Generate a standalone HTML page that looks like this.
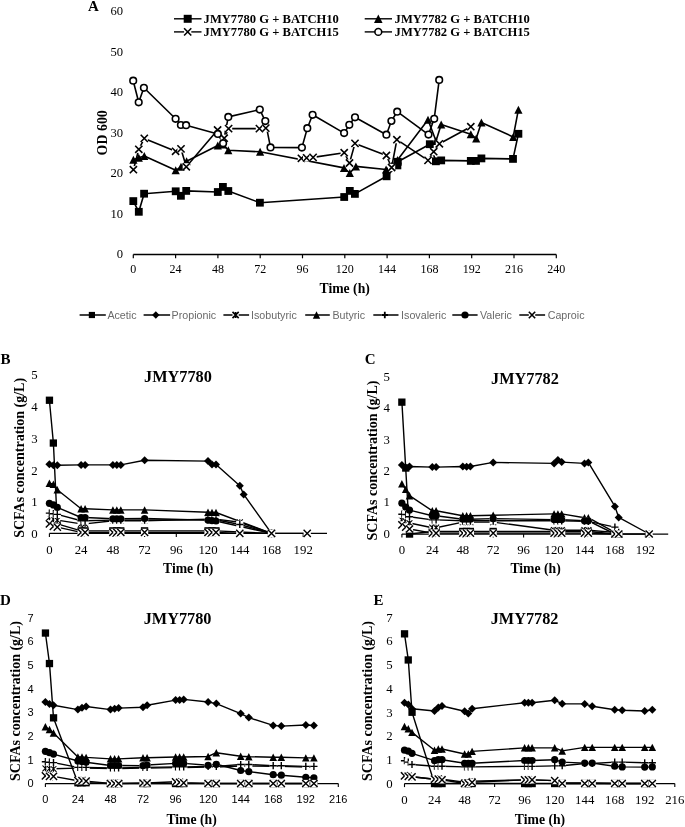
<!DOCTYPE html>
<html><head><meta charset="utf-8"><title>Figure</title>
<style>
html,body{margin:0;padding:0;background:#fff;width:685px;height:827px;overflow:hidden;}
svg{display:block;will-change:transform;}
text{font-kerning:normal;}
</style></head><body>
<svg width="685" height="827" viewBox="0 0 685 827">
<rect width="685" height="827" fill="#fff"/>
<path d="M133.3 254.5H556.3" stroke="#000" stroke-width="1.3" fill="none"/>
<path d="M133.3 254.5V258.3" stroke="#000" stroke-width="1.2"/>
<text x="133.3" y="273" font-family='"Liberation Serif", serif' font-size="12" font-weight="normal" text-anchor="middle" fill="#000">0</text>
<path d="M175.6 254.5V258.3" stroke="#000" stroke-width="1.2"/>
<text x="175.6" y="273" font-family='"Liberation Serif", serif' font-size="12" font-weight="normal" text-anchor="middle" fill="#000">24</text>
<path d="M217.9 254.5V258.3" stroke="#000" stroke-width="1.2"/>
<text x="217.9" y="273" font-family='"Liberation Serif", serif' font-size="12" font-weight="normal" text-anchor="middle" fill="#000">48</text>
<path d="M260.2 254.5V258.3" stroke="#000" stroke-width="1.2"/>
<text x="260.2" y="273" font-family='"Liberation Serif", serif' font-size="12" font-weight="normal" text-anchor="middle" fill="#000">72</text>
<path d="M302.5 254.5V258.3" stroke="#000" stroke-width="1.2"/>
<text x="302.5" y="273" font-family='"Liberation Serif", serif' font-size="12" font-weight="normal" text-anchor="middle" fill="#000">96</text>
<path d="M344.8 254.5V258.3" stroke="#000" stroke-width="1.2"/>
<text x="344.8" y="273" font-family='"Liberation Serif", serif' font-size="12" font-weight="normal" text-anchor="middle" fill="#000">120</text>
<path d="M387.1 254.5V258.3" stroke="#000" stroke-width="1.2"/>
<text x="387.1" y="273" font-family='"Liberation Serif", serif' font-size="12" font-weight="normal" text-anchor="middle" fill="#000">144</text>
<path d="M429.4 254.5V258.3" stroke="#000" stroke-width="1.2"/>
<text x="429.4" y="273" font-family='"Liberation Serif", serif' font-size="12" font-weight="normal" text-anchor="middle" fill="#000">168</text>
<path d="M471.7 254.5V258.3" stroke="#000" stroke-width="1.2"/>
<text x="471.7" y="273" font-family='"Liberation Serif", serif' font-size="12" font-weight="normal" text-anchor="middle" fill="#000">192</text>
<path d="M514 254.5V258.3" stroke="#000" stroke-width="1.2"/>
<text x="514" y="273" font-family='"Liberation Serif", serif' font-size="12" font-weight="normal" text-anchor="middle" fill="#000">216</text>
<path d="M556.3 254.5V258.3" stroke="#000" stroke-width="1.2"/>
<text x="556.3" y="273" font-family='"Liberation Serif", serif' font-size="12" font-weight="normal" text-anchor="middle" fill="#000">240</text>
<text x="123" y="258.3" font-family='"Liberation Serif", serif' font-size="12.6" font-weight="normal" text-anchor="end" fill="#000">0</text>
<text x="123" y="217.8" font-family='"Liberation Serif", serif' font-size="12.6" font-weight="normal" text-anchor="end" fill="#000">10</text>
<text x="123" y="177.2" font-family='"Liberation Serif", serif' font-size="12.6" font-weight="normal" text-anchor="end" fill="#000">20</text>
<text x="123" y="136.7" font-family='"Liberation Serif", serif' font-size="12.6" font-weight="normal" text-anchor="end" fill="#000">30</text>
<text x="123" y="96.1" font-family='"Liberation Serif", serif' font-size="12.6" font-weight="normal" text-anchor="end" fill="#000">40</text>
<text x="123" y="55.5" font-family='"Liberation Serif", serif' font-size="12.6" font-weight="normal" text-anchor="end" fill="#000">50</text>
<text x="123" y="15" font-family='"Liberation Serif", serif' font-size="12.6" font-weight="normal" text-anchor="end" fill="#000">60</text>
<text x="88" y="11.2" font-family='"Liberation Serif", serif' font-size="15" font-weight="bold" text-anchor="start" fill="#000">A</text>
<text x="344.7" y="293.2" font-family='"Liberation Serif", serif' font-size="13.7" font-weight="bold" text-anchor="middle" fill="#000">Time (h)</text>
<text x="0" y="0" font-family='"Liberation Serif", serif' font-size="13.9" font-weight="bold" text-anchor="middle" fill="#000" transform="translate(107.0 132.8) rotate(-90)">OD 600</text>
<path d="M133.3 201.1L138.8 211.8L144.1 193.7L175.7 191.3L180.9 195.8L186.2 190.9L217.8 192L222.9 186.9L228.3 191L259.9 202.7L344.2 197L349.8 190.9L354.9 193.9L386.6 176.3L397.4 165.4L397.8 161.8L429.8 144.2L435.9 161.3L441.2 160.4L470.8 160.9L476 160.9L481.4 158.4L513 158.9L518.4 133.8" stroke="#000" stroke-width="1.6" fill="none" stroke-linejoin="round"/>
<path d="M133.4 169.7L138.8 149.3L144.3 138.4L175.6 151.3L181 148.9L186.3 166.8L217.6 130L224.2 138.2L228.6 128.6L259.4 128.6L265.8 128.1" stroke="#000" stroke-width="1.6" fill="none" stroke-linejoin="round"/>
<path d="M301.4 158.3L306.6 157.9L313.1 157.4L344.2 152.7L349.5 163L355 143.4L386.4 155.5L391.6 167.5L396.9 139.7L428 160.4L433.7 151.7L439.4 143.8L470.8 126.7" stroke="#000" stroke-width="1.6" fill="none" stroke-linejoin="round"/>
<path d="M133.4 159.8L138.8 157.8L144.3 155.9L175.7 170.3L181 166.8L186.6 161.2L217.8 145.5L223.1 144.5L228.3 150.2L260.1 151.8L344 167.9L349.8 173L355.9 166.4L386.1 169.5L391.6 166L397.5 160L428 119.7L436 141L441.2 124.5L470.8 134.3L476.2 138.4L481.4 122.6L513.2 136.9L518.4 109.7" stroke="#000" stroke-width="1.6" fill="none" stroke-linejoin="round"/>
<path d="M133.2 80.7L138.7 102.3L143.9 87.8L175.6 118.8L180.9 125L186.1 125.2L217.8 133.9L223.1 143.3L228.3 116.9L259.8 109.6L265.3 121.1L270.5 147.4L301.9 147.6L307.3 128.2L312.6 114.8L344.1 133.1L349.3 124.8L355 117.3L386.4 134.7L391.4 121L397.2 111.7L428.5 134.6L434.2 118.8L439.2 79.9" stroke="#000" stroke-width="1.6" fill="none" stroke-linejoin="round"/>
<rect x="129.4" y="197.2" width="7.8" height="7.8" fill="#000"/>
<rect x="134.9" y="207.9" width="7.8" height="7.8" fill="#000"/>
<rect x="140.2" y="189.8" width="7.8" height="7.8" fill="#000"/>
<rect x="171.8" y="187.4" width="7.8" height="7.8" fill="#000"/>
<rect x="177" y="191.9" width="7.8" height="7.8" fill="#000"/>
<rect x="182.3" y="187" width="7.8" height="7.8" fill="#000"/>
<rect x="213.9" y="188.1" width="7.8" height="7.8" fill="#000"/>
<rect x="219" y="183" width="7.8" height="7.8" fill="#000"/>
<rect x="224.4" y="187.1" width="7.8" height="7.8" fill="#000"/>
<rect x="256" y="198.8" width="7.8" height="7.8" fill="#000"/>
<rect x="340.3" y="193.1" width="7.8" height="7.8" fill="#000"/>
<rect x="345.9" y="187" width="7.8" height="7.8" fill="#000"/>
<rect x="351" y="190" width="7.8" height="7.8" fill="#000"/>
<rect x="382.7" y="172.4" width="7.8" height="7.8" fill="#000"/>
<rect x="393.5" y="161.5" width="7.8" height="7.8" fill="#000"/>
<rect x="393.9" y="157.9" width="7.8" height="7.8" fill="#000"/>
<rect x="425.9" y="140.3" width="7.8" height="7.8" fill="#000"/>
<rect x="432" y="157.4" width="7.8" height="7.8" fill="#000"/>
<rect x="437.3" y="156.5" width="7.8" height="7.8" fill="#000"/>
<rect x="466.9" y="157" width="7.8" height="7.8" fill="#000"/>
<rect x="472.1" y="157" width="7.8" height="7.8" fill="#000"/>
<rect x="477.5" y="154.5" width="7.8" height="7.8" fill="#000"/>
<rect x="509.1" y="155" width="7.8" height="7.8" fill="#000"/>
<rect x="514.5" y="129.9" width="7.8" height="7.8" fill="#000"/>
<path d="M133.4 155.8L137.5 163.8L129.3 163.8Z" fill="#000"/>
<path d="M138.8 153.8L142.9 161.8L134.7 161.8Z" fill="#000"/>
<path d="M144.3 151.9L148.4 159.9L140.2 159.9Z" fill="#000"/>
<path d="M175.7 166.3L179.8 174.3L171.6 174.3Z" fill="#000"/>
<path d="M181 162.8L185.1 170.8L176.9 170.8Z" fill="#000"/>
<path d="M186.6 157.2L190.7 165.2L182.5 165.2Z" fill="#000"/>
<path d="M217.8 141.5L221.9 149.5L213.7 149.5Z" fill="#000"/>
<path d="M223.1 140.5L227.2 148.5L219 148.5Z" fill="#000"/>
<path d="M228.3 146.2L232.4 154.2L224.2 154.2Z" fill="#000"/>
<path d="M260.1 147.8L264.2 155.8L256 155.8Z" fill="#000"/>
<path d="M344 163.9L348.1 171.9L339.9 171.9Z" fill="#000"/>
<path d="M349.8 169L353.9 177L345.7 177Z" fill="#000"/>
<path d="M355.9 162.4L360 170.4L351.8 170.4Z" fill="#000"/>
<path d="M386.1 165.5L390.2 173.5L382 173.5Z" fill="#000"/>
<path d="M391.6 162L395.7 170L387.5 170Z" fill="#000"/>
<path d="M397.5 156L401.6 164L393.4 164Z" fill="#000"/>
<path d="M428 115.7L432.1 123.7L423.9 123.7Z" fill="#000"/>
<path d="M436 137L440.1 145L431.9 145Z" fill="#000"/>
<path d="M441.2 120.5L445.3 128.5L437.1 128.5Z" fill="#000"/>
<path d="M470.8 130.3L474.9 138.3L466.7 138.3Z" fill="#000"/>
<path d="M476.2 134.4L480.3 142.4L472.1 142.4Z" fill="#000"/>
<path d="M481.4 118.6L485.5 126.6L477.3 126.6Z" fill="#000"/>
<path d="M513.2 132.9L517.3 140.9L509.1 140.9Z" fill="#000"/>
<path d="M518.4 105.7L522.5 113.7L514.3 113.7Z" fill="#000"/>
<rect x="129.8" y="166.1" width="7.2" height="7.2" fill="#fff"/><path d="M129.8 166.1L137 173.3M137 166.1L129.8 173.3" stroke="#000" stroke-width="1.6" fill="none"/>
<rect x="135.2" y="145.7" width="7.2" height="7.2" fill="#fff"/><path d="M135.2 145.7L142.4 152.9M142.4 145.7L135.2 152.9" stroke="#000" stroke-width="1.6" fill="none"/>
<rect x="140.7" y="134.8" width="7.2" height="7.2" fill="#fff"/><path d="M140.7 134.8L147.9 142M147.9 134.8L140.7 142" stroke="#000" stroke-width="1.6" fill="none"/>
<rect x="172" y="147.7" width="7.2" height="7.2" fill="#fff"/><path d="M172 147.7L179.2 154.9M179.2 147.7L172 154.9" stroke="#000" stroke-width="1.6" fill="none"/>
<rect x="177.4" y="145.3" width="7.2" height="7.2" fill="#fff"/><path d="M177.4 145.3L184.6 152.5M184.6 145.3L177.4 152.5" stroke="#000" stroke-width="1.6" fill="none"/>
<rect x="182.7" y="163.2" width="7.2" height="7.2" fill="#fff"/><path d="M182.7 163.2L189.9 170.4M189.9 163.2L182.7 170.4" stroke="#000" stroke-width="1.6" fill="none"/>
<rect x="214" y="126.4" width="7.2" height="7.2" fill="#fff"/><path d="M214 126.4L221.2 133.6M221.2 126.4L214 133.6" stroke="#000" stroke-width="1.6" fill="none"/>
<rect x="220.6" y="134.6" width="7.2" height="7.2" fill="#fff"/><path d="M220.6 134.6L227.8 141.8M227.8 134.6L220.6 141.8" stroke="#000" stroke-width="1.6" fill="none"/>
<rect x="225" y="125" width="7.2" height="7.2" fill="#fff"/><path d="M225 125L232.2 132.2M232.2 125L225 132.2" stroke="#000" stroke-width="1.6" fill="none"/>
<rect x="255.8" y="125" width="7.2" height="7.2" fill="#fff"/><path d="M255.8 125L263 132.2M263 125L255.8 132.2" stroke="#000" stroke-width="1.6" fill="none"/>
<rect x="262.2" y="124.5" width="7.2" height="7.2" fill="#fff"/><path d="M262.2 124.5L269.4 131.7M269.4 124.5L262.2 131.7" stroke="#000" stroke-width="1.6" fill="none"/>
<rect x="297.8" y="154.7" width="7.2" height="7.2" fill="#fff"/><path d="M297.8 154.7L305 161.9M305 154.7L297.8 161.9" stroke="#000" stroke-width="1.6" fill="none"/>
<rect x="303" y="154.3" width="7.2" height="7.2" fill="#fff"/><path d="M303 154.3L310.2 161.5M310.2 154.3L303 161.5" stroke="#000" stroke-width="1.6" fill="none"/>
<rect x="309.5" y="153.8" width="7.2" height="7.2" fill="#fff"/><path d="M309.5 153.8L316.7 161M316.7 153.8L309.5 161" stroke="#000" stroke-width="1.6" fill="none"/>
<rect x="340.6" y="149.1" width="7.2" height="7.2" fill="#fff"/><path d="M340.6 149.1L347.8 156.3M347.8 149.1L340.6 156.3" stroke="#000" stroke-width="1.6" fill="none"/>
<rect x="345.9" y="159.4" width="7.2" height="7.2" fill="#fff"/><path d="M345.9 159.4L353.1 166.6M353.1 159.4L345.9 166.6" stroke="#000" stroke-width="1.6" fill="none"/>
<rect x="351.4" y="139.8" width="7.2" height="7.2" fill="#fff"/><path d="M351.4 139.8L358.6 147M358.6 139.8L351.4 147" stroke="#000" stroke-width="1.6" fill="none"/>
<rect x="382.8" y="151.9" width="7.2" height="7.2" fill="#fff"/><path d="M382.8 151.9L390 159.1M390 151.9L382.8 159.1" stroke="#000" stroke-width="1.6" fill="none"/>
<rect x="388" y="163.9" width="7.2" height="7.2" fill="#fff"/><path d="M388 163.9L395.2 171.1M395.2 163.9L388 171.1" stroke="#000" stroke-width="1.6" fill="none"/>
<rect x="393.3" y="136.1" width="7.2" height="7.2" fill="#fff"/><path d="M393.3 136.1L400.5 143.3M400.5 136.1L393.3 143.3" stroke="#000" stroke-width="1.6" fill="none"/>
<rect x="424.4" y="156.8" width="7.2" height="7.2" fill="#fff"/><path d="M424.4 156.8L431.6 164M431.6 156.8L424.4 164" stroke="#000" stroke-width="1.6" fill="none"/>
<rect x="430.1" y="148.1" width="7.2" height="7.2" fill="#fff"/><path d="M430.1 148.1L437.3 155.3M437.3 148.1L430.1 155.3" stroke="#000" stroke-width="1.6" fill="none"/>
<rect x="435.8" y="140.2" width="7.2" height="7.2" fill="#fff"/><path d="M435.8 140.2L443 147.4M443 140.2L435.8 147.4" stroke="#000" stroke-width="1.6" fill="none"/>
<rect x="467.2" y="123.1" width="7.2" height="7.2" fill="#fff"/><path d="M467.2 123.1L474.4 130.3M474.4 123.1L467.2 130.3" stroke="#000" stroke-width="1.6" fill="none"/>
<circle cx="133.2" cy="80.7" r="3.3" fill="#fff" stroke="#000" stroke-width="1.6"/>
<circle cx="138.7" cy="102.3" r="3.3" fill="#fff" stroke="#000" stroke-width="1.6"/>
<circle cx="143.9" cy="87.8" r="3.3" fill="#fff" stroke="#000" stroke-width="1.6"/>
<circle cx="175.6" cy="118.8" r="3.3" fill="#fff" stroke="#000" stroke-width="1.6"/>
<circle cx="180.9" cy="125" r="3.3" fill="#fff" stroke="#000" stroke-width="1.6"/>
<circle cx="186.1" cy="125.2" r="3.3" fill="#fff" stroke="#000" stroke-width="1.6"/>
<circle cx="217.8" cy="133.9" r="3.3" fill="#fff" stroke="#000" stroke-width="1.6"/>
<circle cx="223.1" cy="143.3" r="3.3" fill="#fff" stroke="#000" stroke-width="1.6"/>
<circle cx="228.3" cy="116.9" r="3.3" fill="#fff" stroke="#000" stroke-width="1.6"/>
<circle cx="259.8" cy="109.6" r="3.3" fill="#fff" stroke="#000" stroke-width="1.6"/>
<circle cx="265.3" cy="121.1" r="3.3" fill="#fff" stroke="#000" stroke-width="1.6"/>
<circle cx="270.5" cy="147.4" r="3.3" fill="#fff" stroke="#000" stroke-width="1.6"/>
<circle cx="301.9" cy="147.6" r="3.3" fill="#fff" stroke="#000" stroke-width="1.6"/>
<circle cx="307.3" cy="128.2" r="3.3" fill="#fff" stroke="#000" stroke-width="1.6"/>
<circle cx="312.6" cy="114.8" r="3.3" fill="#fff" stroke="#000" stroke-width="1.6"/>
<circle cx="344.1" cy="133.1" r="3.3" fill="#fff" stroke="#000" stroke-width="1.6"/>
<circle cx="349.3" cy="124.8" r="3.3" fill="#fff" stroke="#000" stroke-width="1.6"/>
<circle cx="355" cy="117.3" r="3.3" fill="#fff" stroke="#000" stroke-width="1.6"/>
<circle cx="386.4" cy="134.7" r="3.3" fill="#fff" stroke="#000" stroke-width="1.6"/>
<circle cx="391.4" cy="121" r="3.3" fill="#fff" stroke="#000" stroke-width="1.6"/>
<circle cx="397.2" cy="111.7" r="3.3" fill="#fff" stroke="#000" stroke-width="1.6"/>
<circle cx="428.5" cy="134.6" r="3.3" fill="#fff" stroke="#000" stroke-width="1.6"/>
<circle cx="434.2" cy="118.8" r="3.3" fill="#fff" stroke="#000" stroke-width="1.6"/>
<circle cx="439.2" cy="79.9" r="3.3" fill="#fff" stroke="#000" stroke-width="1.6"/>
<path d="M174 18.8H201.5" stroke="#000" stroke-width="1.4"/>
<rect x="183.7" y="14.8" width="8" height="8" fill="#000"/>
<text x="203.6" y="22.6" font-family='"Liberation Serif", serif' font-size="12.6" font-weight="bold" text-anchor="start" fill="#000">JMY7780 G + BATCH10</text>
<path d="M174 31.9H201.5" stroke="#000" stroke-width="1.4"/>
<rect x="184.1" y="28.3" width="7.2" height="7.2" fill="#fff"/><path d="M184.1 28.3L191.3 35.5M191.3 28.3L184.1 35.5" stroke="#000" stroke-width="1.6" fill="none"/>
<text x="203.6" y="36" font-family='"Liberation Serif", serif' font-size="12.6" font-weight="bold" text-anchor="start" fill="#000">JMY7780 G + BATCH15</text>
<path d="M364.7 18.8H392" stroke="#000" stroke-width="1.4"/>
<path d="M378.3 14.5L382.6 23.1L374 23.1Z" fill="#000"/>
<text x="394.6" y="22.6" font-family='"Liberation Serif", serif' font-size="12.6" font-weight="bold" text-anchor="start" fill="#000">JMY7782 G + BATCH10</text>
<path d="M364.7 31.9H392" stroke="#000" stroke-width="1.4"/>
<circle cx="378.3" cy="31.9" r="3.4" fill="#fff" stroke="#000" stroke-width="1.6"/>
<text x="394.6" y="36" font-family='"Liberation Serif", serif' font-size="12.6" font-weight="bold" text-anchor="start" fill="#000">JMY7782 G + BATCH15</text>
<path d="M79.6 315H105.8" stroke="#000" stroke-width="1.5"/>
<rect x="88.8" y="311.9" width="6.2" height="6.2" fill="#000"/>
<text x="107.4" y="318.9" font-family='"Liberation Sans", sans-serif' font-size="10.7" font-weight="normal" text-anchor="start" fill="#6a6a6a">Acetic</text>
<path d="M143.6 315H170.1" stroke="#000" stroke-width="1.5"/>
<path d="M155.8 311.3L159.5 315L155.8 318.7L152.1 315Z" fill="#000"/>
<text x="171.6" y="318.9" font-family='"Liberation Sans", sans-serif' font-size="10.7" font-weight="normal" text-anchor="start" fill="#6a6a6a">Propionic</text>
<path d="M223.4 315H249.1" stroke="#000" stroke-width="1.5"/>
<rect x="232.5" y="311.9" width="6.2" height="6.2" fill="#fff"/><path d="M232.5 311.9L238.7 318.1M238.7 311.9L232.5 318.1M235.6 311.9L235.6 318.1" stroke="#000" stroke-width="1.6" fill="none"/>
<text x="251" y="318.9" font-family='"Liberation Sans", sans-serif' font-size="10.7" font-weight="normal" text-anchor="start" fill="#6a6a6a">Isobutyric</text>
<path d="M305.2 315H329.8" stroke="#000" stroke-width="1.5"/>
<path d="M316.5 311.3L320.2 318.7L312.8 318.7Z" fill="#000"/>
<text x="332.4" y="318.9" font-family='"Liberation Sans", sans-serif' font-size="10.7" font-weight="normal" text-anchor="start" fill="#6a6a6a">Butyric</text>
<path d="M373.3 315H398.5" stroke="#000" stroke-width="1.5"/>
<rect x="381.6" y="311.8" width="6.4" height="6.4" fill="#fff"/><path d="M381.6 315L388 315M384.8 311.8L384.8 318.2" stroke="#000" stroke-width="1.8" fill="none"/>
<text x="401.1" y="318.9" font-family='"Liberation Sans", sans-serif' font-size="10.7" font-weight="normal" text-anchor="start" fill="#6a6a6a">Isovaleric</text>
<path d="M452.3 315H477.6" stroke="#000" stroke-width="1.5"/>
<circle cx="465" cy="315" r="3.6" fill="#000"/>
<text x="480" y="318.9" font-family='"Liberation Sans", sans-serif' font-size="10.7" font-weight="normal" text-anchor="start" fill="#6a6a6a">Valeric</text>
<path d="M519.3 315H545.1" stroke="#000" stroke-width="1.5"/>
<rect x="528.8" y="311.8" width="6.4" height="6.4" fill="#fff"/><path d="M528.8 311.8L535.2 318.2M535.2 311.8L528.8 318.2" stroke="#000" stroke-width="1.6" fill="none"/>
<text x="547.7" y="318.9" font-family='"Liberation Sans", sans-serif' font-size="10.7" font-weight="normal" text-anchor="start" fill="#6a6a6a">Caproic</text>
<path d="M49.4 533.4H327" stroke="#000" stroke-width="1.25" fill="none"/>
<path d="M49.4 533.4V537" stroke="#000" stroke-width="1.1"/>
<text x="49.4" y="553.8" font-family='"Liberation Serif", serif' font-size="12.8" font-weight="normal" text-anchor="middle" fill="#000">0</text>
<path d="M81.1 533.4V537" stroke="#000" stroke-width="1.1"/>
<text x="81.1" y="553.8" font-family='"Liberation Serif", serif' font-size="12.8" font-weight="normal" text-anchor="middle" fill="#000">24</text>
<path d="M112.9 533.4V537" stroke="#000" stroke-width="1.1"/>
<text x="112.9" y="553.8" font-family='"Liberation Serif", serif' font-size="12.8" font-weight="normal" text-anchor="middle" fill="#000">48</text>
<path d="M144.6 533.4V537" stroke="#000" stroke-width="1.1"/>
<text x="144.6" y="553.8" font-family='"Liberation Serif", serif' font-size="12.8" font-weight="normal" text-anchor="middle" fill="#000">72</text>
<path d="M176.3 533.4V537" stroke="#000" stroke-width="1.1"/>
<text x="176.3" y="553.8" font-family='"Liberation Serif", serif' font-size="12.8" font-weight="normal" text-anchor="middle" fill="#000">96</text>
<path d="M208 533.4V537" stroke="#000" stroke-width="1.1"/>
<text x="208" y="553.8" font-family='"Liberation Serif", serif' font-size="12.8" font-weight="normal" text-anchor="middle" fill="#000">120</text>
<path d="M239.8 533.4V537" stroke="#000" stroke-width="1.1"/>
<text x="239.8" y="553.8" font-family='"Liberation Serif", serif' font-size="12.8" font-weight="normal" text-anchor="middle" fill="#000">144</text>
<path d="M271.5 533.4V537" stroke="#000" stroke-width="1.1"/>
<text x="271.5" y="553.8" font-family='"Liberation Serif", serif' font-size="12.8" font-weight="normal" text-anchor="middle" fill="#000">168</text>
<path d="M303.2 533.4V537" stroke="#000" stroke-width="1.1"/>
<text x="303.2" y="553.8" font-family='"Liberation Serif", serif' font-size="12.8" font-weight="normal" text-anchor="middle" fill="#000">192</text>
<text x="37.6" y="537.9" font-family='"Liberation Serif", serif' font-size="12.8" font-weight="normal" text-anchor="end" fill="#000">0</text>
<text x="37.6" y="506.2" font-family='"Liberation Serif", serif' font-size="12.8" font-weight="normal" text-anchor="end" fill="#000">1</text>
<text x="37.6" y="474.5" font-family='"Liberation Serif", serif' font-size="12.8" font-weight="normal" text-anchor="end" fill="#000">2</text>
<text x="37.6" y="442.8" font-family='"Liberation Serif", serif' font-size="12.8" font-weight="normal" text-anchor="end" fill="#000">3</text>
<text x="37.6" y="411.1" font-family='"Liberation Serif", serif' font-size="12.8" font-weight="normal" text-anchor="end" fill="#000">4</text>
<text x="37.6" y="379.4" font-family='"Liberation Serif", serif' font-size="12.8" font-weight="normal" text-anchor="end" fill="#000">5</text>
<text x="0.5" y="364" font-family='"Liberation Serif", serif' font-size="15" font-weight="bold" text-anchor="start" fill="#000">B</text>
<text x="177.9" y="382.2" font-family='"Liberation Serif", serif' font-size="16.3" font-weight="bold" text-anchor="middle" fill="#000">JMY7780</text>
<text x="188.2" y="573.1" font-family='"Liberation Serif", serif' font-size="13.7" font-weight="bold" text-anchor="middle" fill="#000">Time (h)</text>
<text x="0" y="0" font-family='"Liberation Serif", serif' font-size="14" font-weight="bold" text-anchor="middle" fill="#000" transform="translate(24 457.9) rotate(-90)">SCFAs concentration (g/L)</text>
<path d="M49.4 400.3L53.4 443.1L57.3 523.9L81.1 530.9L85.1 530.9L112.9 530.9L116.8 530.9L120.8 530.9L144.6 530.9L208 530.9L212 530.9L216 530.9L271.5 533.4" stroke="#000" stroke-width="1.4" fill="none" stroke-linejoin="round"/>
<path d="M49.4 464.3L53.4 465.2L57.3 465.2L81.1 464.9L85.1 464.9L112.9 464.9L116.8 464.9L120.8 464.9L144.6 460.2L208 461.1L212 464.6L216 464.6L239.8 485.8L243.7 494.4L271.5 533.4" stroke="#000" stroke-width="1.4" fill="none" stroke-linejoin="round"/>
<path d="M49.4 517.5L53.4 519.1L57.3 520.1L81.1 523.9L85.1 523.9L112.9 520.7L116.8 520.7L120.8 520.7L144.6 520.7L208 519.1L212 519.1L216 519.1L239.8 522.3L271.5 533.4" stroke="#000" stroke-width="1.4" fill="none" stroke-linejoin="round"/>
<path d="M49.4 483.3L53.4 484.3L57.3 489.7L81.1 508.7L85.1 508.7L112.9 509.9L116.8 509.9L120.8 509.9L144.6 509.9L208 512.2L212 512.5L216 512.5L271.5 533.4" stroke="#000" stroke-width="1.4" fill="none" stroke-linejoin="round"/>
<path d="M49.4 513.1L53.4 513.7L57.3 514.4L81.1 520.7L85.1 520.7L112.9 520.1L116.8 520.1L120.8 520.1L144.6 520.1L208 519.8L212 519.8L216 519.8L239.8 524.5L271.5 533.4" stroke="#000" stroke-width="1.4" fill="none" stroke-linejoin="round"/>
<path d="M49.4 503.3L53.4 504.9L57.3 507.4L81.1 517.5L85.1 517.5L112.9 518.8L116.8 518.8L120.8 518.8L144.6 518.5L208 520.1L212 520.7L216 521L271.5 533.4" stroke="#000" stroke-width="1.4" fill="none" stroke-linejoin="round"/>
<path d="M49.4 523.9L53.4 526.4L57.3 527.1L81.1 532.4L85.1 532.4L112.9 532.4L116.8 532.4L120.8 532.4L144.6 532.4L208 532.4L212 532.4L216 532.4L239.8 533.4L271.5 533.4L307.2 533.4" stroke="#000" stroke-width="1.4" fill="none" stroke-linejoin="round"/>
<rect x="45.8" y="396.6" width="7.3" height="7.3" fill="#000"/>
<rect x="49.7" y="439.4" width="7.3" height="7.3" fill="#000"/>
<rect x="53.7" y="520.2" width="7.3" height="7.3" fill="#000"/>
<rect x="77.5" y="527.2" width="7.3" height="7.3" fill="#000"/>
<rect x="81.4" y="527.2" width="7.3" height="7.3" fill="#000"/>
<rect x="109.2" y="527.2" width="7.3" height="7.3" fill="#000"/>
<rect x="113.2" y="527.2" width="7.3" height="7.3" fill="#000"/>
<rect x="117.1" y="527.2" width="7.3" height="7.3" fill="#000"/>
<rect x="140.9" y="527.2" width="7.3" height="7.3" fill="#000"/>
<rect x="204.4" y="527.2" width="7.3" height="7.3" fill="#000"/>
<rect x="208.4" y="527.2" width="7.3" height="7.3" fill="#000"/>
<rect x="212.3" y="527.2" width="7.3" height="7.3" fill="#000"/>
<rect x="267.8" y="529.8" width="7.3" height="7.3" fill="#000"/>
<path d="M49.4 460.3L53.4 464.3L49.4 468.3L45.4 464.3Z" fill="#000"/>
<path d="M53.4 461.2L57.4 465.2L53.4 469.2L49.4 465.2Z" fill="#000"/>
<path d="M57.3 461.2L61.3 465.2L57.3 469.2L53.3 465.2Z" fill="#000"/>
<path d="M81.1 460.9L85.1 464.9L81.1 468.9L77.1 464.9Z" fill="#000"/>
<path d="M85.1 460.9L89.1 464.9L85.1 468.9L81.1 464.9Z" fill="#000"/>
<path d="M112.9 460.9L116.9 464.9L112.9 468.9L108.9 464.9Z" fill="#000"/>
<path d="M116.8 460.9L120.8 464.9L116.8 468.9L112.8 464.9Z" fill="#000"/>
<path d="M120.8 460.9L124.8 464.9L120.8 468.9L116.8 464.9Z" fill="#000"/>
<path d="M144.6 456.2L148.6 460.2L144.6 464.2L140.6 460.2Z" fill="#000"/>
<path d="M208 457.1L212 461.1L208 465.1L204 461.1Z" fill="#000"/>
<path d="M212 460.6L216 464.6L212 468.6L208 464.6Z" fill="#000"/>
<path d="M216 460.6L220 464.6L216 468.6L212 464.6Z" fill="#000"/>
<path d="M239.8 481.8L243.8 485.8L239.8 489.8L235.8 485.8Z" fill="#000"/>
<path d="M243.7 490.4L247.7 494.4L243.7 498.4L239.7 494.4Z" fill="#000"/>
<path d="M271.5 529.4L275.5 533.4L271.5 537.4L267.5 533.4Z" fill="#000"/>
<rect x="46.4" y="514.5" width="6" height="6" fill="#fff"/><path d="M46.4 514.5L52.4 520.5M52.4 514.5L46.4 520.5M49.4 514.5L49.4 520.5" stroke="#000" stroke-width="1.1" fill="none"/>
<rect x="50.4" y="516.1" width="6" height="6" fill="#fff"/><path d="M50.4 516.1L56.4 522.1M56.4 516.1L50.4 522.1M53.4 516.1L53.4 522.1" stroke="#000" stroke-width="1.1" fill="none"/>
<rect x="54.3" y="517.1" width="6" height="6" fill="#fff"/><path d="M54.3 517.1L60.3 523.1M60.3 517.1L54.3 523.1M57.3 517.1L57.3 523.1" stroke="#000" stroke-width="1.1" fill="none"/>
<rect x="78.1" y="520.9" width="6" height="6" fill="#fff"/><path d="M78.1 520.9L84.1 526.9M84.1 520.9L78.1 526.9M81.1 520.9L81.1 526.9" stroke="#000" stroke-width="1.1" fill="none"/>
<rect x="82.1" y="520.9" width="6" height="6" fill="#fff"/><path d="M82.1 520.9L88.1 526.9M88.1 520.9L82.1 526.9M85.1 520.9L85.1 526.9" stroke="#000" stroke-width="1.1" fill="none"/>
<rect x="109.9" y="517.7" width="6" height="6" fill="#fff"/><path d="M109.9 517.7L115.9 523.7M115.9 517.7L109.9 523.7M112.9 517.7L112.9 523.7" stroke="#000" stroke-width="1.1" fill="none"/>
<rect x="113.8" y="517.7" width="6" height="6" fill="#fff"/><path d="M113.8 517.7L119.8 523.7M119.8 517.7L113.8 523.7M116.8 517.7L116.8 523.7" stroke="#000" stroke-width="1.1" fill="none"/>
<rect x="117.8" y="517.7" width="6" height="6" fill="#fff"/><path d="M117.8 517.7L123.8 523.7M123.8 517.7L117.8 523.7M120.8 517.7L120.8 523.7" stroke="#000" stroke-width="1.1" fill="none"/>
<rect x="141.6" y="517.7" width="6" height="6" fill="#fff"/><path d="M141.6 517.7L147.6 523.7M147.6 517.7L141.6 523.7M144.6 517.7L144.6 523.7" stroke="#000" stroke-width="1.1" fill="none"/>
<rect x="205" y="516.1" width="6" height="6" fill="#fff"/><path d="M205 516.1L211 522.1M211 516.1L205 522.1M208 516.1L208 522.1" stroke="#000" stroke-width="1.1" fill="none"/>
<rect x="209" y="516.1" width="6" height="6" fill="#fff"/><path d="M209 516.1L215 522.1M215 516.1L209 522.1M212 516.1L212 522.1" stroke="#000" stroke-width="1.1" fill="none"/>
<rect x="213" y="516.1" width="6" height="6" fill="#fff"/><path d="M213 516.1L219 522.1M219 516.1L213 522.1M216 516.1L216 522.1" stroke="#000" stroke-width="1.1" fill="none"/>
<rect x="236.8" y="519.3" width="6" height="6" fill="#fff"/><path d="M236.8 519.3L242.8 525.3M242.8 519.3L236.8 525.3M239.8 519.3L239.8 525.3" stroke="#000" stroke-width="1.1" fill="none"/>
<rect x="268.5" y="530.4" width="6" height="6" fill="#fff"/><path d="M268.5 530.4L274.5 536.4M274.5 530.4L268.5 536.4M271.5 530.4L271.5 536.4" stroke="#000" stroke-width="1.1" fill="none"/>
<path d="M49.4 479.6L53.2 487L45.6 487Z" fill="#000"/>
<path d="M53.4 480.5L57.2 488L49.6 488Z" fill="#000"/>
<path d="M57.3 485.9L61.1 493.4L53.5 493.4Z" fill="#000"/>
<path d="M81.1 504.9L84.9 512.4L77.3 512.4Z" fill="#000"/>
<path d="M85.1 504.9L88.9 512.4L81.3 512.4Z" fill="#000"/>
<path d="M112.9 506.2L116.7 513.7L109.1 513.7Z" fill="#000"/>
<path d="M116.8 506.2L120.6 513.7L113 513.7Z" fill="#000"/>
<path d="M120.8 506.2L124.6 513.7L117 513.7Z" fill="#000"/>
<path d="M144.6 506.2L148.4 513.7L140.8 513.7Z" fill="#000"/>
<path d="M208 508.4L211.8 515.9L204.2 515.9Z" fill="#000"/>
<path d="M212 508.8L215.8 516.2L208.2 516.2Z" fill="#000"/>
<path d="M216 508.8L219.8 516.2L212.2 516.2Z" fill="#000"/>
<path d="M271.5 529.7L275.3 537.1L267.7 537.1Z" fill="#000"/>
<rect x="45.8" y="509.5" width="7.2" height="7.2" fill="#fff"/><path d="M45.8 513.1L53 513.1M49.4 509.5L49.4 516.7" stroke="#000" stroke-width="1.4" fill="none"/>
<rect x="49.8" y="510.1" width="7.2" height="7.2" fill="#fff"/><path d="M49.8 513.7L57 513.7M53.4 510.1L53.4 517.3" stroke="#000" stroke-width="1.4" fill="none"/>
<rect x="53.7" y="510.8" width="7.2" height="7.2" fill="#fff"/><path d="M53.7 514.4L60.9 514.4M57.3 510.8L57.3 518" stroke="#000" stroke-width="1.4" fill="none"/>
<rect x="77.5" y="517.1" width="7.2" height="7.2" fill="#fff"/><path d="M77.5 520.7L84.7 520.7M81.1 517.1L81.1 524.3" stroke="#000" stroke-width="1.4" fill="none"/>
<rect x="81.5" y="517.1" width="7.2" height="7.2" fill="#fff"/><path d="M81.5 520.7L88.7 520.7M85.1 517.1L85.1 524.3" stroke="#000" stroke-width="1.4" fill="none"/>
<rect x="109.3" y="516.5" width="7.2" height="7.2" fill="#fff"/><path d="M109.3 520.1L116.5 520.1M112.9 516.5L112.9 523.7" stroke="#000" stroke-width="1.4" fill="none"/>
<rect x="113.2" y="516.5" width="7.2" height="7.2" fill="#fff"/><path d="M113.2 520.1L120.4 520.1M116.8 516.5L116.8 523.7" stroke="#000" stroke-width="1.4" fill="none"/>
<rect x="117.2" y="516.5" width="7.2" height="7.2" fill="#fff"/><path d="M117.2 520.1L124.4 520.1M120.8 516.5L120.8 523.7" stroke="#000" stroke-width="1.4" fill="none"/>
<rect x="141" y="516.5" width="7.2" height="7.2" fill="#fff"/><path d="M141 520.1L148.2 520.1M144.6 516.5L144.6 523.7" stroke="#000" stroke-width="1.4" fill="none"/>
<rect x="204.4" y="516.2" width="7.2" height="7.2" fill="#fff"/><path d="M204.4 519.8L211.6 519.8M208 516.2L208 523.4" stroke="#000" stroke-width="1.4" fill="none"/>
<rect x="208.4" y="516.2" width="7.2" height="7.2" fill="#fff"/><path d="M208.4 519.8L215.6 519.8M212 516.2L212 523.4" stroke="#000" stroke-width="1.4" fill="none"/>
<rect x="212.4" y="516.2" width="7.2" height="7.2" fill="#fff"/><path d="M212.4 519.8L219.6 519.8M216 516.2L216 523.4" stroke="#000" stroke-width="1.4" fill="none"/>
<rect x="236.2" y="520.9" width="7.2" height="7.2" fill="#fff"/><path d="M236.2 524.5L243.4 524.5M239.8 520.9L239.8 528.1" stroke="#000" stroke-width="1.4" fill="none"/>
<rect x="267.9" y="529.8" width="7.2" height="7.2" fill="#fff"/><path d="M267.9 533.4L275.1 533.4M271.5 529.8L271.5 537" stroke="#000" stroke-width="1.4" fill="none"/>
<circle cx="49.4" cy="503.3" r="3.6" fill="#000"/>
<circle cx="53.4" cy="504.9" r="3.6" fill="#000"/>
<circle cx="57.3" cy="507.4" r="3.6" fill="#000"/>
<circle cx="81.1" cy="517.5" r="3.6" fill="#000"/>
<circle cx="85.1" cy="517.5" r="3.6" fill="#000"/>
<circle cx="112.9" cy="518.8" r="3.6" fill="#000"/>
<circle cx="116.8" cy="518.8" r="3.6" fill="#000"/>
<circle cx="120.8" cy="518.8" r="3.6" fill="#000"/>
<circle cx="144.6" cy="518.5" r="3.6" fill="#000"/>
<circle cx="208" cy="520.1" r="3.6" fill="#000"/>
<circle cx="212" cy="520.7" r="3.6" fill="#000"/>
<circle cx="216" cy="521" r="3.6" fill="#000"/>
<circle cx="271.5" cy="533.4" r="3.6" fill="#000"/>
<rect x="45.8" y="520.3" width="7.2" height="7.2" fill="#fff"/><path d="M45.8 520.3L53 527.5M53 520.3L45.8 527.5" stroke="#000" stroke-width="1.4" fill="none"/>
<rect x="49.8" y="522.8" width="7.2" height="7.2" fill="#fff"/><path d="M49.8 522.8L57 530M57 522.8L49.8 530" stroke="#000" stroke-width="1.4" fill="none"/>
<rect x="53.7" y="523.5" width="7.2" height="7.2" fill="#fff"/><path d="M53.7 523.5L60.9 530.7M60.9 523.5L53.7 530.7" stroke="#000" stroke-width="1.4" fill="none"/>
<rect x="77.5" y="528.8" width="7.2" height="7.2" fill="#fff"/><path d="M77.5 528.8L84.7 536M84.7 528.8L77.5 536" stroke="#000" stroke-width="1.4" fill="none"/>
<rect x="81.5" y="528.8" width="7.2" height="7.2" fill="#fff"/><path d="M81.5 528.8L88.7 536M88.7 528.8L81.5 536" stroke="#000" stroke-width="1.4" fill="none"/>
<rect x="109.3" y="528.8" width="7.2" height="7.2" fill="#fff"/><path d="M109.3 528.8L116.5 536M116.5 528.8L109.3 536" stroke="#000" stroke-width="1.4" fill="none"/>
<rect x="113.2" y="528.8" width="7.2" height="7.2" fill="#fff"/><path d="M113.2 528.8L120.4 536M120.4 528.8L113.2 536" stroke="#000" stroke-width="1.4" fill="none"/>
<rect x="117.2" y="528.8" width="7.2" height="7.2" fill="#fff"/><path d="M117.2 528.8L124.4 536M124.4 528.8L117.2 536" stroke="#000" stroke-width="1.4" fill="none"/>
<rect x="141" y="528.8" width="7.2" height="7.2" fill="#fff"/><path d="M141 528.8L148.2 536M148.2 528.8L141 536" stroke="#000" stroke-width="1.4" fill="none"/>
<rect x="204.4" y="528.8" width="7.2" height="7.2" fill="#fff"/><path d="M204.4 528.8L211.6 536M211.6 528.8L204.4 536" stroke="#000" stroke-width="1.4" fill="none"/>
<rect x="208.4" y="528.8" width="7.2" height="7.2" fill="#fff"/><path d="M208.4 528.8L215.6 536M215.6 528.8L208.4 536" stroke="#000" stroke-width="1.4" fill="none"/>
<rect x="212.4" y="528.8" width="7.2" height="7.2" fill="#fff"/><path d="M212.4 528.8L219.6 536M219.6 528.8L212.4 536" stroke="#000" stroke-width="1.4" fill="none"/>
<rect x="236.2" y="529.8" width="7.2" height="7.2" fill="#fff"/><path d="M236.2 529.8L243.4 537M243.4 529.8L236.2 537" stroke="#000" stroke-width="1.4" fill="none"/>
<rect x="267.9" y="529.8" width="7.2" height="7.2" fill="#fff"/><path d="M267.9 529.8L275.1 537M275.1 529.8L267.9 537" stroke="#000" stroke-width="1.4" fill="none"/>
<rect x="303.6" y="529.8" width="7.2" height="7.2" fill="#fff"/><path d="M303.6 529.8L310.8 537M310.8 529.8L303.6 537" stroke="#000" stroke-width="1.4" fill="none"/>
<path d="M401.9 534H668.2" stroke="#000" stroke-width="1.25" fill="none"/>
<path d="M401.9 534V537.6" stroke="#000" stroke-width="1.1"/>
<text x="401.9" y="553.8" font-family='"Liberation Serif", serif' font-size="12.8" font-weight="normal" text-anchor="middle" fill="#000">0</text>
<path d="M432.3 534V537.6" stroke="#000" stroke-width="1.1"/>
<text x="432.3" y="553.8" font-family='"Liberation Serif", serif' font-size="12.8" font-weight="normal" text-anchor="middle" fill="#000">24</text>
<path d="M462.8 534V537.6" stroke="#000" stroke-width="1.1"/>
<text x="462.8" y="553.8" font-family='"Liberation Serif", serif' font-size="12.8" font-weight="normal" text-anchor="middle" fill="#000">48</text>
<path d="M493.2 534V537.6" stroke="#000" stroke-width="1.1"/>
<text x="493.2" y="553.8" font-family='"Liberation Serif", serif' font-size="12.8" font-weight="normal" text-anchor="middle" fill="#000">72</text>
<path d="M523.6 534V537.6" stroke="#000" stroke-width="1.1"/>
<text x="523.6" y="553.8" font-family='"Liberation Serif", serif' font-size="12.8" font-weight="normal" text-anchor="middle" fill="#000">96</text>
<path d="M554.1 534V537.6" stroke="#000" stroke-width="1.1"/>
<text x="554.1" y="553.8" font-family='"Liberation Serif", serif' font-size="12.8" font-weight="normal" text-anchor="middle" fill="#000">120</text>
<path d="M584.5 534V537.6" stroke="#000" stroke-width="1.1"/>
<text x="584.5" y="553.8" font-family='"Liberation Serif", serif' font-size="12.8" font-weight="normal" text-anchor="middle" fill="#000">144</text>
<path d="M614.9 534V537.6" stroke="#000" stroke-width="1.1"/>
<text x="614.9" y="553.8" font-family='"Liberation Serif", serif' font-size="12.8" font-weight="normal" text-anchor="middle" fill="#000">168</text>
<path d="M645.4 534V537.6" stroke="#000" stroke-width="1.1"/>
<text x="645.4" y="553.8" font-family='"Liberation Serif", serif' font-size="12.8" font-weight="normal" text-anchor="middle" fill="#000">192</text>
<text x="389.9" y="537.8" font-family='"Liberation Serif", serif' font-size="12.8" font-weight="normal" text-anchor="end" fill="#000">0</text>
<text x="389.9" y="506.4" font-family='"Liberation Serif", serif' font-size="12.8" font-weight="normal" text-anchor="end" fill="#000">1</text>
<text x="389.9" y="475" font-family='"Liberation Serif", serif' font-size="12.8" font-weight="normal" text-anchor="end" fill="#000">2</text>
<text x="389.9" y="443.6" font-family='"Liberation Serif", serif' font-size="12.8" font-weight="normal" text-anchor="end" fill="#000">3</text>
<text x="389.9" y="412.2" font-family='"Liberation Serif", serif' font-size="12.8" font-weight="normal" text-anchor="end" fill="#000">4</text>
<text x="389.9" y="380.8" font-family='"Liberation Serif", serif' font-size="12.8" font-weight="normal" text-anchor="end" fill="#000">5</text>
<text x="364.8" y="364" font-family='"Liberation Serif", serif' font-size="15" font-weight="bold" text-anchor="start" fill="#000">C</text>
<text x="524.9" y="384.2" font-family='"Liberation Serif", serif' font-size="16.3" font-weight="bold" text-anchor="middle" fill="#000">JMY7782</text>
<text x="535.6" y="573.1" font-family='"Liberation Serif", serif' font-size="13.7" font-weight="bold" text-anchor="middle" fill="#000">Time (h)</text>
<text x="0" y="0" font-family='"Liberation Serif", serif' font-size="14" font-weight="bold" text-anchor="middle" fill="#000" transform="translate(376.6 460.5) rotate(-90)">SCFAs concentration (g/L)</text>
<path d="M401.9 402.1L405.7 468.1L409.5 534L432.3 531.5L436.1 531.5L462.8 531.5L466.6 531.5L470.4 531.5L493.2 531.5L554.1 531.5L557.9 531.5L561.7 531.5L584.5 531.5L588.3 531.5L614.9 534L618.7 534" stroke="#000" stroke-width="1.4" fill="none" stroke-linejoin="round"/>
<path d="M401.9 464.9L405.7 467.4L409.5 466.5L432.3 467.1L436.1 467.1L462.8 466.5L466.6 466.8L470.4 466.5L493.2 462.4L554.1 463.4L557.9 459.9L561.7 462.1L584.5 463.4L588.3 462.4L614.9 506.4L618.7 517.4L649.2 534" stroke="#000" stroke-width="1.4" fill="none" stroke-linejoin="round"/>
<path d="M401.9 519.9L405.7 521.4L409.5 523L432.3 527.7L436.1 527.7L462.8 522.1L466.6 522.1L470.4 522.1L493.2 522.1L554.1 530.2L557.9 530.2L561.7 530.2L584.5 530.2L588.3 530.2L614.9 532.4L618.7 534" stroke="#000" stroke-width="1.4" fill="none" stroke-linejoin="round"/>
<path d="M401.9 483.8L405.7 489.4L409.5 495.7L432.3 510.8L436.1 510.8L462.8 515.8L466.6 515.8L470.4 515.8L493.2 515.2L554.1 513.9L557.9 513.9L561.7 513.9L584.5 517.7L588.3 517.7L614.9 532.4L618.7 534" stroke="#000" stroke-width="1.4" fill="none" stroke-linejoin="round"/>
<path d="M401.9 514.2L405.7 514.5L409.5 516.7L432.3 519.9L436.1 519.9L462.8 520.8L466.6 520.8L470.4 520.8L493.2 520.8L554.1 520.8L557.9 520.8L561.7 520.8L584.5 521.4L588.3 521.4L614.9 527.1L618.7 532.4" stroke="#000" stroke-width="1.4" fill="none" stroke-linejoin="round"/>
<path d="M401.9 503.2L405.7 507L409.5 510.1L432.3 515.8L436.1 515.8L462.8 519.2L466.6 519.2L470.4 519.2L493.2 518.6L554.1 519.6L557.9 519.6L561.7 519.6L584.5 520.8L588.3 520.8L614.9 534L618.7 534" stroke="#000" stroke-width="1.4" fill="none" stroke-linejoin="round"/>
<path d="M401.9 524.9L405.7 527.1L409.5 529L432.3 533.1L436.1 533.1L462.8 533.1L466.6 533.1L470.4 533.1L493.2 533.1L554.1 533.1L557.9 533.1L561.7 533.1L584.5 533.1L588.3 533.1L614.9 534L618.7 534L649.2 534" stroke="#000" stroke-width="1.4" fill="none" stroke-linejoin="round"/>
<rect x="398.2" y="398.5" width="7.3" height="7.3" fill="#000"/>
<rect x="402.1" y="464.4" width="7.3" height="7.3" fill="#000"/>
<rect x="405.9" y="530.4" width="7.3" height="7.3" fill="#000"/>
<rect x="428.7" y="527.8" width="7.3" height="7.3" fill="#000"/>
<rect x="432.5" y="527.8" width="7.3" height="7.3" fill="#000"/>
<rect x="459.1" y="527.8" width="7.3" height="7.3" fill="#000"/>
<rect x="462.9" y="527.8" width="7.3" height="7.3" fill="#000"/>
<rect x="466.7" y="527.8" width="7.3" height="7.3" fill="#000"/>
<rect x="489.5" y="527.8" width="7.3" height="7.3" fill="#000"/>
<rect x="550.4" y="527.8" width="7.3" height="7.3" fill="#000"/>
<rect x="554.2" y="527.8" width="7.3" height="7.3" fill="#000"/>
<rect x="558" y="527.8" width="7.3" height="7.3" fill="#000"/>
<rect x="580.8" y="527.8" width="7.3" height="7.3" fill="#000"/>
<rect x="584.6" y="527.8" width="7.3" height="7.3" fill="#000"/>
<rect x="611.3" y="530.4" width="7.3" height="7.3" fill="#000"/>
<rect x="615.1" y="530.4" width="7.3" height="7.3" fill="#000"/>
<path d="M401.9 460.9L405.9 464.9L401.9 468.9L397.9 464.9Z" fill="#000"/>
<path d="M405.7 463.4L409.7 467.4L405.7 471.4L401.7 467.4Z" fill="#000"/>
<path d="M409.5 462.5L413.5 466.5L409.5 470.5L405.5 466.5Z" fill="#000"/>
<path d="M432.3 463.1L436.3 467.1L432.3 471.1L428.3 467.1Z" fill="#000"/>
<path d="M436.1 463.1L440.1 467.1L436.1 471.1L432.1 467.1Z" fill="#000"/>
<path d="M462.8 462.5L466.8 466.5L462.8 470.5L458.8 466.5Z" fill="#000"/>
<path d="M466.6 462.8L470.6 466.8L466.6 470.8L462.6 466.8Z" fill="#000"/>
<path d="M470.4 462.5L474.4 466.5L470.4 470.5L466.4 466.5Z" fill="#000"/>
<path d="M493.2 458.4L497.2 462.4L493.2 466.4L489.2 462.4Z" fill="#000"/>
<path d="M554.1 459.4L558.1 463.4L554.1 467.4L550.1 463.4Z" fill="#000"/>
<path d="M557.9 455.9L561.9 459.9L557.9 463.9L553.9 459.9Z" fill="#000"/>
<path d="M561.7 458.1L565.7 462.1L561.7 466.1L557.7 462.1Z" fill="#000"/>
<path d="M584.5 459.4L588.5 463.4L584.5 467.4L580.5 463.4Z" fill="#000"/>
<path d="M588.3 458.4L592.3 462.4L588.3 466.4L584.3 462.4Z" fill="#000"/>
<path d="M614.9 502.4L618.9 506.4L614.9 510.4L610.9 506.4Z" fill="#000"/>
<path d="M618.7 513.4L622.7 517.4L618.7 521.4L614.7 517.4Z" fill="#000"/>
<path d="M649.2 530L653.2 534L649.2 538L645.2 534Z" fill="#000"/>
<rect x="398.9" y="516.9" width="6" height="6" fill="#fff"/><path d="M398.9 516.9L404.9 522.9M404.9 516.9L398.9 522.9M401.9 516.9L401.9 522.9" stroke="#000" stroke-width="1.1" fill="none"/>
<rect x="402.7" y="518.4" width="6" height="6" fill="#fff"/><path d="M402.7 518.4L408.7 524.4M408.7 518.4L402.7 524.4M405.7 518.4L405.7 524.4" stroke="#000" stroke-width="1.1" fill="none"/>
<rect x="406.5" y="520" width="6" height="6" fill="#fff"/><path d="M406.5 520L412.5 526M412.5 520L406.5 526M409.5 520L409.5 526" stroke="#000" stroke-width="1.1" fill="none"/>
<rect x="429.3" y="524.7" width="6" height="6" fill="#fff"/><path d="M429.3 524.7L435.3 530.7M435.3 524.7L429.3 530.7M432.3 524.7L432.3 530.7" stroke="#000" stroke-width="1.1" fill="none"/>
<rect x="433.1" y="524.7" width="6" height="6" fill="#fff"/><path d="M433.1 524.7L439.1 530.7M439.1 524.7L433.1 530.7M436.1 524.7L436.1 530.7" stroke="#000" stroke-width="1.1" fill="none"/>
<rect x="459.8" y="519.1" width="6" height="6" fill="#fff"/><path d="M459.8 519.1L465.8 525.1M465.8 519.1L459.8 525.1M462.8 519.1L462.8 525.1" stroke="#000" stroke-width="1.1" fill="none"/>
<rect x="463.6" y="519.1" width="6" height="6" fill="#fff"/><path d="M463.6 519.1L469.6 525.1M469.6 519.1L463.6 525.1M466.6 519.1L466.6 525.1" stroke="#000" stroke-width="1.1" fill="none"/>
<rect x="467.4" y="519.1" width="6" height="6" fill="#fff"/><path d="M467.4 519.1L473.4 525.1M473.4 519.1L467.4 525.1M470.4 519.1L470.4 525.1" stroke="#000" stroke-width="1.1" fill="none"/>
<rect x="490.2" y="519.1" width="6" height="6" fill="#fff"/><path d="M490.2 519.1L496.2 525.1M496.2 519.1L490.2 525.1M493.2 519.1L493.2 525.1" stroke="#000" stroke-width="1.1" fill="none"/>
<rect x="551.1" y="527.2" width="6" height="6" fill="#fff"/><path d="M551.1 527.2L557.1 533.2M557.1 527.2L551.1 533.2M554.1 527.2L554.1 533.2" stroke="#000" stroke-width="1.1" fill="none"/>
<rect x="554.9" y="527.2" width="6" height="6" fill="#fff"/><path d="M554.9 527.2L560.9 533.2M560.9 527.2L554.9 533.2M557.9 527.2L557.9 533.2" stroke="#000" stroke-width="1.1" fill="none"/>
<rect x="558.7" y="527.2" width="6" height="6" fill="#fff"/><path d="M558.7 527.2L564.7 533.2M564.7 527.2L558.7 533.2M561.7 527.2L561.7 533.2" stroke="#000" stroke-width="1.1" fill="none"/>
<rect x="581.5" y="527.2" width="6" height="6" fill="#fff"/><path d="M581.5 527.2L587.5 533.2M587.5 527.2L581.5 533.2M584.5 527.2L584.5 533.2" stroke="#000" stroke-width="1.1" fill="none"/>
<rect x="585.3" y="527.2" width="6" height="6" fill="#fff"/><path d="M585.3 527.2L591.3 533.2M591.3 527.2L585.3 533.2M588.3 527.2L588.3 533.2" stroke="#000" stroke-width="1.1" fill="none"/>
<rect x="611.9" y="529.4" width="6" height="6" fill="#fff"/><path d="M611.9 529.4L617.9 535.4M617.9 529.4L611.9 535.4M614.9 529.4L614.9 535.4" stroke="#000" stroke-width="1.1" fill="none"/>
<rect x="615.7" y="531" width="6" height="6" fill="#fff"/><path d="M615.7 531L621.7 537M621.7 531L615.7 537M618.7 531L618.7 537" stroke="#000" stroke-width="1.1" fill="none"/>
<path d="M401.9 480L405.7 487.5L398.1 487.5Z" fill="#000"/>
<path d="M405.7 485.7L409.5 493.1L401.9 493.1Z" fill="#000"/>
<path d="M409.5 492L413.3 499.4L405.7 499.4Z" fill="#000"/>
<path d="M432.3 507L436.1 514.5L428.5 514.5Z" fill="#000"/>
<path d="M436.1 507L439.9 514.5L432.3 514.5Z" fill="#000"/>
<path d="M462.8 512.1L466.6 519.5L459 519.5Z" fill="#000"/>
<path d="M466.6 512.1L470.4 519.5L462.8 519.5Z" fill="#000"/>
<path d="M470.4 512.1L474.2 519.5L466.6 519.5Z" fill="#000"/>
<path d="M493.2 511.4L497 518.9L489.4 518.9Z" fill="#000"/>
<path d="M554.1 510.2L557.9 517.6L550.3 517.6Z" fill="#000"/>
<path d="M557.9 510.2L561.7 517.6L554.1 517.6Z" fill="#000"/>
<path d="M561.7 510.2L565.5 517.6L557.9 517.6Z" fill="#000"/>
<path d="M584.5 513.9L588.3 521.4L580.7 521.4Z" fill="#000"/>
<path d="M588.3 513.9L592.1 521.4L584.5 521.4Z" fill="#000"/>
<path d="M614.9 528.7L618.7 536.2L611.1 536.2Z" fill="#000"/>
<path d="M618.7 530.3L622.5 537.7L614.9 537.7Z" fill="#000"/>
<rect x="398.3" y="510.6" width="7.2" height="7.2" fill="#fff"/><path d="M398.3 514.2L405.5 514.2M401.9 510.6L401.9 517.8" stroke="#000" stroke-width="1.4" fill="none"/>
<rect x="402.1" y="510.9" width="7.2" height="7.2" fill="#fff"/><path d="M402.1 514.5L409.3 514.5M405.7 510.9L405.7 518.1" stroke="#000" stroke-width="1.4" fill="none"/>
<rect x="405.9" y="513.1" width="7.2" height="7.2" fill="#fff"/><path d="M405.9 516.7L413.1 516.7M409.5 513.1L409.5 520.3" stroke="#000" stroke-width="1.4" fill="none"/>
<rect x="428.7" y="516.3" width="7.2" height="7.2" fill="#fff"/><path d="M428.7 519.9L435.9 519.9M432.3 516.3L432.3 523.5" stroke="#000" stroke-width="1.4" fill="none"/>
<rect x="432.5" y="516.3" width="7.2" height="7.2" fill="#fff"/><path d="M432.5 519.9L439.7 519.9M436.1 516.3L436.1 523.5" stroke="#000" stroke-width="1.4" fill="none"/>
<rect x="459.2" y="517.2" width="7.2" height="7.2" fill="#fff"/><path d="M459.2 520.8L466.4 520.8M462.8 517.2L462.8 524.4" stroke="#000" stroke-width="1.4" fill="none"/>
<rect x="463" y="517.2" width="7.2" height="7.2" fill="#fff"/><path d="M463 520.8L470.2 520.8M466.6 517.2L466.6 524.4" stroke="#000" stroke-width="1.4" fill="none"/>
<rect x="466.8" y="517.2" width="7.2" height="7.2" fill="#fff"/><path d="M466.8 520.8L474 520.8M470.4 517.2L470.4 524.4" stroke="#000" stroke-width="1.4" fill="none"/>
<rect x="489.6" y="517.2" width="7.2" height="7.2" fill="#fff"/><path d="M489.6 520.8L496.8 520.8M493.2 517.2L493.2 524.4" stroke="#000" stroke-width="1.4" fill="none"/>
<rect x="550.5" y="517.2" width="7.2" height="7.2" fill="#fff"/><path d="M550.5 520.8L557.7 520.8M554.1 517.2L554.1 524.4" stroke="#000" stroke-width="1.4" fill="none"/>
<rect x="554.3" y="517.2" width="7.2" height="7.2" fill="#fff"/><path d="M554.3 520.8L561.5 520.8M557.9 517.2L557.9 524.4" stroke="#000" stroke-width="1.4" fill="none"/>
<rect x="558.1" y="517.2" width="7.2" height="7.2" fill="#fff"/><path d="M558.1 520.8L565.3 520.8M561.7 517.2L561.7 524.4" stroke="#000" stroke-width="1.4" fill="none"/>
<rect x="580.9" y="517.8" width="7.2" height="7.2" fill="#fff"/><path d="M580.9 521.4L588.1 521.4M584.5 517.8L584.5 525" stroke="#000" stroke-width="1.4" fill="none"/>
<rect x="584.7" y="517.8" width="7.2" height="7.2" fill="#fff"/><path d="M584.7 521.4L591.9 521.4M588.3 517.8L588.3 525" stroke="#000" stroke-width="1.4" fill="none"/>
<rect x="611.3" y="523.5" width="7.2" height="7.2" fill="#fff"/><path d="M611.3 527.1L618.5 527.1M614.9 523.5L614.9 530.7" stroke="#000" stroke-width="1.4" fill="none"/>
<rect x="615.1" y="528.8" width="7.2" height="7.2" fill="#fff"/><path d="M615.1 532.4L622.3 532.4M618.7 528.8L618.7 536" stroke="#000" stroke-width="1.4" fill="none"/>
<circle cx="401.9" cy="503.2" r="3.6" fill="#000"/>
<circle cx="405.7" cy="507" r="3.6" fill="#000"/>
<circle cx="409.5" cy="510.1" r="3.6" fill="#000"/>
<circle cx="432.3" cy="515.8" r="3.6" fill="#000"/>
<circle cx="436.1" cy="515.8" r="3.6" fill="#000"/>
<circle cx="462.8" cy="519.2" r="3.6" fill="#000"/>
<circle cx="466.6" cy="519.2" r="3.6" fill="#000"/>
<circle cx="470.4" cy="519.2" r="3.6" fill="#000"/>
<circle cx="493.2" cy="518.6" r="3.6" fill="#000"/>
<circle cx="554.1" cy="519.6" r="3.6" fill="#000"/>
<circle cx="557.9" cy="519.6" r="3.6" fill="#000"/>
<circle cx="561.7" cy="519.6" r="3.6" fill="#000"/>
<circle cx="584.5" cy="520.8" r="3.6" fill="#000"/>
<circle cx="588.3" cy="520.8" r="3.6" fill="#000"/>
<circle cx="614.9" cy="534" r="3.6" fill="#000"/>
<circle cx="618.7" cy="534" r="3.6" fill="#000"/>
<rect x="398.3" y="521.3" width="7.2" height="7.2" fill="#fff"/><path d="M398.3 521.3L405.5 528.5M405.5 521.3L398.3 528.5" stroke="#000" stroke-width="1.4" fill="none"/>
<rect x="402.1" y="523.5" width="7.2" height="7.2" fill="#fff"/><path d="M402.1 523.5L409.3 530.7M409.3 523.5L402.1 530.7" stroke="#000" stroke-width="1.4" fill="none"/>
<rect x="405.9" y="525.4" width="7.2" height="7.2" fill="#fff"/><path d="M405.9 525.4L413.1 532.6M413.1 525.4L405.9 532.6" stroke="#000" stroke-width="1.4" fill="none"/>
<rect x="428.7" y="529.5" width="7.2" height="7.2" fill="#fff"/><path d="M428.7 529.5L435.9 536.7M435.9 529.5L428.7 536.7" stroke="#000" stroke-width="1.4" fill="none"/>
<rect x="432.5" y="529.5" width="7.2" height="7.2" fill="#fff"/><path d="M432.5 529.5L439.7 536.7M439.7 529.5L432.5 536.7" stroke="#000" stroke-width="1.4" fill="none"/>
<rect x="459.2" y="529.5" width="7.2" height="7.2" fill="#fff"/><path d="M459.2 529.5L466.4 536.7M466.4 529.5L459.2 536.7" stroke="#000" stroke-width="1.4" fill="none"/>
<rect x="463" y="529.5" width="7.2" height="7.2" fill="#fff"/><path d="M463 529.5L470.2 536.7M470.2 529.5L463 536.7" stroke="#000" stroke-width="1.4" fill="none"/>
<rect x="466.8" y="529.5" width="7.2" height="7.2" fill="#fff"/><path d="M466.8 529.5L474 536.7M474 529.5L466.8 536.7" stroke="#000" stroke-width="1.4" fill="none"/>
<rect x="489.6" y="529.5" width="7.2" height="7.2" fill="#fff"/><path d="M489.6 529.5L496.8 536.7M496.8 529.5L489.6 536.7" stroke="#000" stroke-width="1.4" fill="none"/>
<rect x="550.5" y="529.5" width="7.2" height="7.2" fill="#fff"/><path d="M550.5 529.5L557.7 536.7M557.7 529.5L550.5 536.7" stroke="#000" stroke-width="1.4" fill="none"/>
<rect x="554.3" y="529.5" width="7.2" height="7.2" fill="#fff"/><path d="M554.3 529.5L561.5 536.7M561.5 529.5L554.3 536.7" stroke="#000" stroke-width="1.4" fill="none"/>
<rect x="558.1" y="529.5" width="7.2" height="7.2" fill="#fff"/><path d="M558.1 529.5L565.3 536.7M565.3 529.5L558.1 536.7" stroke="#000" stroke-width="1.4" fill="none"/>
<rect x="580.9" y="529.5" width="7.2" height="7.2" fill="#fff"/><path d="M580.9 529.5L588.1 536.7M588.1 529.5L580.9 536.7" stroke="#000" stroke-width="1.4" fill="none"/>
<rect x="584.7" y="529.5" width="7.2" height="7.2" fill="#fff"/><path d="M584.7 529.5L591.9 536.7M591.9 529.5L584.7 536.7" stroke="#000" stroke-width="1.4" fill="none"/>
<rect x="611.3" y="530.4" width="7.2" height="7.2" fill="#fff"/><path d="M611.3 530.4L618.5 537.6M618.5 530.4L611.3 537.6" stroke="#000" stroke-width="1.4" fill="none"/>
<rect x="615.1" y="530.4" width="7.2" height="7.2" fill="#fff"/><path d="M615.1 530.4L622.3 537.6M622.3 530.4L615.1 537.6" stroke="#000" stroke-width="1.4" fill="none"/>
<rect x="645.6" y="530.4" width="7.2" height="7.2" fill="#fff"/><path d="M645.6 530.4L652.8 537.6M652.8 530.4L645.6 537.6" stroke="#000" stroke-width="1.4" fill="none"/>
<path d="M45.4 783.5H338.3" stroke="#000" stroke-width="1.25" fill="none"/>
<path d="M45.4 783.5V787.1" stroke="#000" stroke-width="1.1"/>
<text x="45.4" y="803.4" font-family='"Liberation Sans", sans-serif' font-size="11" font-weight="normal" text-anchor="middle" fill="#000">0</text>
<path d="M77.9 783.5V787.1" stroke="#000" stroke-width="1.1"/>
<text x="77.9" y="803.4" font-family='"Liberation Sans", sans-serif' font-size="11" font-weight="normal" text-anchor="middle" fill="#000">24</text>
<path d="M110.5 783.5V787.1" stroke="#000" stroke-width="1.1"/>
<text x="110.5" y="803.4" font-family='"Liberation Sans", sans-serif' font-size="11" font-weight="normal" text-anchor="middle" fill="#000">48</text>
<path d="M143 783.5V787.1" stroke="#000" stroke-width="1.1"/>
<text x="143" y="803.4" font-family='"Liberation Sans", sans-serif' font-size="11" font-weight="normal" text-anchor="middle" fill="#000">72</text>
<path d="M175.6 783.5V787.1" stroke="#000" stroke-width="1.1"/>
<text x="175.6" y="803.4" font-family='"Liberation Sans", sans-serif' font-size="11" font-weight="normal" text-anchor="middle" fill="#000">96</text>
<path d="M208.1 783.5V787.1" stroke="#000" stroke-width="1.1"/>
<text x="208.1" y="803.4" font-family='"Liberation Sans", sans-serif' font-size="11" font-weight="normal" text-anchor="middle" fill="#000">120</text>
<path d="M240.7 783.5V787.1" stroke="#000" stroke-width="1.1"/>
<text x="240.7" y="803.4" font-family='"Liberation Sans", sans-serif' font-size="11" font-weight="normal" text-anchor="middle" fill="#000">144</text>
<path d="M273.2 783.5V787.1" stroke="#000" stroke-width="1.1"/>
<text x="273.2" y="803.4" font-family='"Liberation Sans", sans-serif' font-size="11" font-weight="normal" text-anchor="middle" fill="#000">168</text>
<path d="M305.8 783.5V787.1" stroke="#000" stroke-width="1.1"/>
<text x="305.8" y="803.4" font-family='"Liberation Sans", sans-serif' font-size="11" font-weight="normal" text-anchor="middle" fill="#000">192</text>
<path d="M338.3 783.5V787.1" stroke="#000" stroke-width="1.1"/>
<text x="338.3" y="803.4" font-family='"Liberation Sans", sans-serif' font-size="11" font-weight="normal" text-anchor="middle" fill="#000">216</text>
<text x="33.6" y="787.4" font-family='"Liberation Sans", sans-serif' font-size="11" font-weight="normal" text-anchor="end" fill="#000">0</text>
<text x="33.6" y="763.7" font-family='"Liberation Sans", sans-serif' font-size="11" font-weight="normal" text-anchor="end" fill="#000">1</text>
<text x="33.6" y="740" font-family='"Liberation Sans", sans-serif' font-size="11" font-weight="normal" text-anchor="end" fill="#000">2</text>
<text x="33.6" y="716.3" font-family='"Liberation Sans", sans-serif' font-size="11" font-weight="normal" text-anchor="end" fill="#000">3</text>
<text x="33.6" y="692.6" font-family='"Liberation Sans", sans-serif' font-size="11" font-weight="normal" text-anchor="end" fill="#000">4</text>
<text x="33.6" y="668.9" font-family='"Liberation Sans", sans-serif' font-size="11" font-weight="normal" text-anchor="end" fill="#000">5</text>
<text x="33.6" y="645.2" font-family='"Liberation Sans", sans-serif' font-size="11" font-weight="normal" text-anchor="end" fill="#000">6</text>
<text x="33.6" y="621.5" font-family='"Liberation Sans", sans-serif' font-size="11" font-weight="normal" text-anchor="end" fill="#000">7</text>
<text x="0" y="605.4" font-family='"Liberation Serif", serif' font-size="15" font-weight="bold" text-anchor="start" fill="#000">D</text>
<text x="177.6" y="623.6" font-family='"Liberation Serif", serif' font-size="16.3" font-weight="bold" text-anchor="middle" fill="#000">JMY7780</text>
<text x="191.6" y="824" font-family='"Liberation Serif", serif' font-size="13.7" font-weight="bold" text-anchor="middle" fill="#000">Time (h)</text>
<text x="0" y="0" font-family='"Liberation Serif", serif' font-size="14" font-weight="bold" text-anchor="middle" fill="#000" transform="translate(19.8 701) rotate(-90)">SCFAs concentration (g/L)</text>
<path d="M45.4 633L49.5 663.6L53.5 717.9L77.9 782.8L82 782.8L86.1 782.8L110.5 783.5L114.6 783.5L118.6 783.5L143 783.5L147.1 783.5L175.6 783.5L179.6 783.5L183.7 783.5L208.1 783.5L216.3 783.5L240.7 783.5L248.8 783.5L273.2 783.5L281.3 783.5L305.8 783.5L313.9 783.5" stroke="#000" stroke-width="1.4" fill="none" stroke-linejoin="round"/>
<path d="M45.4 702L49.5 704.1L53.5 705.3L77.9 709.6L82 707.7L86.1 706.5L110.5 709.6L114.6 708.8L118.6 708.1L143 707.2L147.1 705.3L175.6 700.1L179.6 700.1L183.7 699.4L208.1 702L216.3 703.6L240.7 713.6L248.8 717.6L273.2 725.4L281.3 726.1L305.8 725L313.9 725.4" stroke="#000" stroke-width="1.4" fill="none" stroke-linejoin="round"/>
<path d="M45.4 768.3L49.5 768.6L53.5 768.8L77.9 768.1L82 768.1L86.1 768.1L110.5 768.6L114.6 768.6L118.6 768.6L143 768.1L147.1 768.1L175.6 767.6L179.6 767.6L183.7 767.6L208.1 767.1L216.3 767.1L240.7 766L248.8 766L273.2 766.4L281.3 766.4L305.8 767.1L313.9 767.1" stroke="#000" stroke-width="1.4" fill="none" stroke-linejoin="round"/>
<path d="M45.4 726.9L49.5 729.5L53.5 733L77.9 757L82 757L86.1 757.4L110.5 758.9L114.6 758.9L118.6 758.9L143 757.7L147.1 757.7L175.6 757L179.6 757L183.7 757L208.1 756.5L216.3 752.7L240.7 756.2L248.8 756.7L273.2 757.2L281.3 757.2L305.8 757.9L313.9 757.9" stroke="#000" stroke-width="1.4" fill="none" stroke-linejoin="round"/>
<path d="M45.4 761.7L49.5 762.2L53.5 762.6L77.9 767.4L82 767.4L86.1 767.4L110.5 767.9L114.6 767.9L118.6 767.9L143 767.4L147.1 767.4L175.6 766.9L179.6 766.9L183.7 766.9L208.1 766.4L216.3 766.4L240.7 764.5L248.8 764.5L273.2 765.7L281.3 765.7L305.8 766.4L313.9 766.4" stroke="#000" stroke-width="1.4" fill="none" stroke-linejoin="round"/>
<path d="M45.4 751.3L49.5 752.7L53.5 754.1L77.9 761L82 761.5L86.1 762.2L110.5 765.5L114.6 765.5L118.6 765.5L143 765.7L147.1 765L175.6 763.4L179.6 763.4L183.7 763.4L208.1 765.3L216.3 764.3L240.7 770.5L248.8 771.6L273.2 774.7L281.3 775.2L305.8 777.3L313.9 777.8" stroke="#000" stroke-width="1.4" fill="none" stroke-linejoin="round"/>
<path d="M45.4 775.9L49.5 776.4L53.5 776.4L77.9 780.7L82 780.7L86.1 781.1L110.5 783.5L114.6 783.5L118.6 783.5L143 783L147.1 783L175.6 781.8L179.6 782.3L183.7 782.8L208.1 783.5L216.3 783.5L240.7 783.5L248.8 783.5L273.2 783.5L281.3 783.5L305.8 783.5L313.9 783.5" stroke="#000" stroke-width="1.4" fill="none" stroke-linejoin="round"/>
<rect x="41.8" y="629.4" width="7.3" height="7.3" fill="#000"/>
<rect x="45.8" y="659.9" width="7.3" height="7.3" fill="#000"/>
<rect x="49.9" y="714.2" width="7.3" height="7.3" fill="#000"/>
<rect x="74.3" y="779.1" width="7.3" height="7.3" fill="#000"/>
<rect x="78.4" y="779.1" width="7.3" height="7.3" fill="#000"/>
<rect x="82.4" y="779.1" width="7.3" height="7.3" fill="#000"/>
<rect x="106.8" y="779.9" width="7.3" height="7.3" fill="#000"/>
<rect x="110.9" y="779.9" width="7.3" height="7.3" fill="#000"/>
<rect x="115" y="779.9" width="7.3" height="7.3" fill="#000"/>
<rect x="139.4" y="779.9" width="7.3" height="7.3" fill="#000"/>
<rect x="143.4" y="779.9" width="7.3" height="7.3" fill="#000"/>
<rect x="171.9" y="779.9" width="7.3" height="7.3" fill="#000"/>
<rect x="176" y="779.9" width="7.3" height="7.3" fill="#000"/>
<rect x="180.1" y="779.9" width="7.3" height="7.3" fill="#000"/>
<rect x="204.5" y="779.9" width="7.3" height="7.3" fill="#000"/>
<rect x="212.6" y="779.9" width="7.3" height="7.3" fill="#000"/>
<rect x="237" y="779.9" width="7.3" height="7.3" fill="#000"/>
<rect x="245.2" y="779.9" width="7.3" height="7.3" fill="#000"/>
<rect x="269.6" y="779.9" width="7.3" height="7.3" fill="#000"/>
<rect x="277.7" y="779.9" width="7.3" height="7.3" fill="#000"/>
<rect x="302.1" y="779.9" width="7.3" height="7.3" fill="#000"/>
<rect x="310.2" y="779.9" width="7.3" height="7.3" fill="#000"/>
<path d="M45.4 698L49.4 702L45.4 706L41.4 702Z" fill="#000"/>
<path d="M49.5 700.1L53.5 704.1L49.5 708.1L45.5 704.1Z" fill="#000"/>
<path d="M53.5 701.3L57.5 705.3L53.5 709.3L49.5 705.3Z" fill="#000"/>
<path d="M77.9 705.6L81.9 709.6L77.9 713.6L73.9 709.6Z" fill="#000"/>
<path d="M82 703.7L86 707.7L82 711.7L78 707.7Z" fill="#000"/>
<path d="M86.1 702.5L90.1 706.5L86.1 710.5L82.1 706.5Z" fill="#000"/>
<path d="M110.5 705.6L114.5 709.6L110.5 713.6L106.5 709.6Z" fill="#000"/>
<path d="M114.6 704.8L118.6 708.8L114.6 712.8L110.6 708.8Z" fill="#000"/>
<path d="M118.6 704.1L122.6 708.1L118.6 712.1L114.6 708.1Z" fill="#000"/>
<path d="M143 703.2L147 707.2L143 711.2L139 707.2Z" fill="#000"/>
<path d="M147.1 701.3L151.1 705.3L147.1 709.3L143.1 705.3Z" fill="#000"/>
<path d="M175.6 696.1L179.6 700.1L175.6 704.1L171.6 700.1Z" fill="#000"/>
<path d="M179.6 696.1L183.6 700.1L179.6 704.1L175.6 700.1Z" fill="#000"/>
<path d="M183.7 695.4L187.7 699.4L183.7 703.4L179.7 699.4Z" fill="#000"/>
<path d="M208.1 698L212.1 702L208.1 706L204.1 702Z" fill="#000"/>
<path d="M216.3 699.6L220.3 703.6L216.3 707.6L212.3 703.6Z" fill="#000"/>
<path d="M240.7 709.6L244.7 713.6L240.7 717.6L236.7 713.6Z" fill="#000"/>
<path d="M248.8 713.6L252.8 717.6L248.8 721.6L244.8 717.6Z" fill="#000"/>
<path d="M273.2 721.4L277.2 725.4L273.2 729.4L269.2 725.4Z" fill="#000"/>
<path d="M281.3 722.1L285.3 726.1L281.3 730.1L277.3 726.1Z" fill="#000"/>
<path d="M305.8 721L309.8 725L305.8 729L301.8 725Z" fill="#000"/>
<path d="M313.9 721.4L317.9 725.4L313.9 729.4L309.9 725.4Z" fill="#000"/>
<rect x="42.4" y="765.3" width="6" height="6" fill="#fff"/><path d="M42.4 765.3L48.4 771.3M48.4 765.3L42.4 771.3M45.4 765.3L45.4 771.3" stroke="#000" stroke-width="1.1" fill="none"/>
<rect x="46.5" y="765.6" width="6" height="6" fill="#fff"/><path d="M46.5 765.6L52.5 771.6M52.5 765.6L46.5 771.6M49.5 765.6L49.5 771.6" stroke="#000" stroke-width="1.1" fill="none"/>
<rect x="50.5" y="765.8" width="6" height="6" fill="#fff"/><path d="M50.5 765.8L56.5 771.8M56.5 765.8L50.5 771.8M53.5 765.8L53.5 771.8" stroke="#000" stroke-width="1.1" fill="none"/>
<path d="M45.4 723.1L49.2 730.6L41.6 730.6Z" fill="#000"/>
<path d="M49.5 725.7L53.3 733.2L45.7 733.2Z" fill="#000"/>
<path d="M53.5 729.3L57.3 736.7L49.7 736.7Z" fill="#000"/>
<path d="M77.9 753.2L81.7 760.7L74.1 760.7Z" fill="#000"/>
<path d="M82 753.2L85.8 760.7L78.2 760.7Z" fill="#000"/>
<path d="M86.1 753.7L89.9 761.2L82.3 761.2Z" fill="#000"/>
<path d="M110.5 755.1L114.3 762.6L106.7 762.6Z" fill="#000"/>
<path d="M114.6 755.1L118.4 762.6L110.8 762.6Z" fill="#000"/>
<path d="M118.6 755.1L122.4 762.6L114.8 762.6Z" fill="#000"/>
<path d="M143 753.9L146.8 761.4L139.2 761.4Z" fill="#000"/>
<path d="M147.1 753.9L150.9 761.4L143.3 761.4Z" fill="#000"/>
<path d="M175.6 753.2L179.4 760.7L171.8 760.7Z" fill="#000"/>
<path d="M179.6 753.2L183.4 760.7L175.8 760.7Z" fill="#000"/>
<path d="M183.7 753.2L187.5 760.7L179.9 760.7Z" fill="#000"/>
<path d="M208.1 752.8L211.9 760.2L204.3 760.2Z" fill="#000"/>
<path d="M216.3 749L220.1 756.4L212.5 756.4Z" fill="#000"/>
<path d="M240.7 752.5L244.5 760L236.9 760Z" fill="#000"/>
<path d="M248.8 753L252.6 760.4L245 760.4Z" fill="#000"/>
<path d="M273.2 753.5L277 760.9L269.4 760.9Z" fill="#000"/>
<path d="M281.3 753.5L285.1 760.9L277.5 760.9Z" fill="#000"/>
<path d="M305.8 754.2L309.6 761.6L302 761.6Z" fill="#000"/>
<path d="M313.9 754.2L317.7 761.6L310.1 761.6Z" fill="#000"/>
<rect x="41.8" y="758.1" width="7.2" height="7.2" fill="#fff"/><path d="M41.8 761.7L49 761.7M45.4 758.1L45.4 765.3" stroke="#000" stroke-width="1.4" fill="none"/>
<rect x="45.9" y="758.6" width="7.2" height="7.2" fill="#fff"/><path d="M45.9 762.2L53.1 762.2M49.5 758.6L49.5 765.8" stroke="#000" stroke-width="1.4" fill="none"/>
<rect x="49.9" y="759" width="7.2" height="7.2" fill="#fff"/><path d="M49.9 762.6L57.1 762.6M53.5 759L53.5 766.2" stroke="#000" stroke-width="1.4" fill="none"/>
<rect x="74.3" y="763.8" width="7.2" height="7.2" fill="#fff"/><path d="M74.3 767.4L81.5 767.4M77.9 763.8L77.9 771" stroke="#000" stroke-width="1.4" fill="none"/>
<rect x="78.4" y="763.8" width="7.2" height="7.2" fill="#fff"/><path d="M78.4 767.4L85.6 767.4M82 763.8L82 771" stroke="#000" stroke-width="1.4" fill="none"/>
<rect x="82.5" y="763.8" width="7.2" height="7.2" fill="#fff"/><path d="M82.5 767.4L89.7 767.4M86.1 763.8L86.1 771" stroke="#000" stroke-width="1.4" fill="none"/>
<rect x="106.9" y="764.3" width="7.2" height="7.2" fill="#fff"/><path d="M106.9 767.9L114.1 767.9M110.5 764.3L110.5 771.5" stroke="#000" stroke-width="1.4" fill="none"/>
<rect x="111" y="764.3" width="7.2" height="7.2" fill="#fff"/><path d="M111 767.9L118.2 767.9M114.6 764.3L114.6 771.5" stroke="#000" stroke-width="1.4" fill="none"/>
<rect x="115" y="764.3" width="7.2" height="7.2" fill="#fff"/><path d="M115 767.9L122.2 767.9M118.6 764.3L118.6 771.5" stroke="#000" stroke-width="1.4" fill="none"/>
<rect x="139.4" y="763.8" width="7.2" height="7.2" fill="#fff"/><path d="M139.4 767.4L146.6 767.4M143 763.8L143 771" stroke="#000" stroke-width="1.4" fill="none"/>
<rect x="143.5" y="763.8" width="7.2" height="7.2" fill="#fff"/><path d="M143.5 767.4L150.7 767.4M147.1 763.8L147.1 771" stroke="#000" stroke-width="1.4" fill="none"/>
<rect x="172" y="763.3" width="7.2" height="7.2" fill="#fff"/><path d="M172 766.9L179.2 766.9M175.6 763.3L175.6 770.5" stroke="#000" stroke-width="1.4" fill="none"/>
<rect x="176" y="763.3" width="7.2" height="7.2" fill="#fff"/><path d="M176 766.9L183.2 766.9M179.6 763.3L179.6 770.5" stroke="#000" stroke-width="1.4" fill="none"/>
<rect x="180.1" y="763.3" width="7.2" height="7.2" fill="#fff"/><path d="M180.1 766.9L187.3 766.9M183.7 763.3L183.7 770.5" stroke="#000" stroke-width="1.4" fill="none"/>
<rect x="204.5" y="762.8" width="7.2" height="7.2" fill="#fff"/><path d="M204.5 766.4L211.7 766.4M208.1 762.8L208.1 770" stroke="#000" stroke-width="1.4" fill="none"/>
<rect x="212.7" y="762.8" width="7.2" height="7.2" fill="#fff"/><path d="M212.7 766.4L219.9 766.4M216.3 762.8L216.3 770" stroke="#000" stroke-width="1.4" fill="none"/>
<rect x="237.1" y="760.9" width="7.2" height="7.2" fill="#fff"/><path d="M237.1 764.5L244.3 764.5M240.7 760.9L240.7 768.1" stroke="#000" stroke-width="1.4" fill="none"/>
<rect x="245.2" y="760.9" width="7.2" height="7.2" fill="#fff"/><path d="M245.2 764.5L252.4 764.5M248.8 760.9L248.8 768.1" stroke="#000" stroke-width="1.4" fill="none"/>
<rect x="269.6" y="762.1" width="7.2" height="7.2" fill="#fff"/><path d="M269.6 765.7L276.8 765.7M273.2 762.1L273.2 769.3" stroke="#000" stroke-width="1.4" fill="none"/>
<rect x="277.7" y="762.1" width="7.2" height="7.2" fill="#fff"/><path d="M277.7 765.7L284.9 765.7M281.3 762.1L281.3 769.3" stroke="#000" stroke-width="1.4" fill="none"/>
<rect x="302.2" y="762.8" width="7.2" height="7.2" fill="#fff"/><path d="M302.2 766.4L309.4 766.4M305.8 762.8L305.8 770" stroke="#000" stroke-width="1.4" fill="none"/>
<rect x="310.3" y="762.8" width="7.2" height="7.2" fill="#fff"/><path d="M310.3 766.4L317.5 766.4M313.9 762.8L313.9 770" stroke="#000" stroke-width="1.4" fill="none"/>
<circle cx="45.4" cy="751.3" r="3.6" fill="#000"/>
<circle cx="49.5" cy="752.7" r="3.6" fill="#000"/>
<circle cx="53.5" cy="754.1" r="3.6" fill="#000"/>
<circle cx="77.9" cy="761" r="3.6" fill="#000"/>
<circle cx="82" cy="761.5" r="3.6" fill="#000"/>
<circle cx="86.1" cy="762.2" r="3.6" fill="#000"/>
<circle cx="110.5" cy="765.5" r="3.6" fill="#000"/>
<circle cx="114.6" cy="765.5" r="3.6" fill="#000"/>
<circle cx="118.6" cy="765.5" r="3.6" fill="#000"/>
<circle cx="143" cy="765.7" r="3.6" fill="#000"/>
<circle cx="147.1" cy="765" r="3.6" fill="#000"/>
<circle cx="175.6" cy="763.4" r="3.6" fill="#000"/>
<circle cx="179.6" cy="763.4" r="3.6" fill="#000"/>
<circle cx="183.7" cy="763.4" r="3.6" fill="#000"/>
<circle cx="208.1" cy="765.3" r="3.6" fill="#000"/>
<circle cx="216.3" cy="764.3" r="3.6" fill="#000"/>
<circle cx="240.7" cy="770.5" r="3.6" fill="#000"/>
<circle cx="248.8" cy="771.6" r="3.6" fill="#000"/>
<circle cx="273.2" cy="774.7" r="3.6" fill="#000"/>
<circle cx="281.3" cy="775.2" r="3.6" fill="#000"/>
<circle cx="305.8" cy="777.3" r="3.6" fill="#000"/>
<circle cx="313.9" cy="777.8" r="3.6" fill="#000"/>
<rect x="41.8" y="772.3" width="7.2" height="7.2" fill="#fff"/><path d="M41.8 772.3L49 779.5M49 772.3L41.8 779.5" stroke="#000" stroke-width="1.4" fill="none"/>
<rect x="45.9" y="772.8" width="7.2" height="7.2" fill="#fff"/><path d="M45.9 772.8L53.1 780M53.1 772.8L45.9 780" stroke="#000" stroke-width="1.4" fill="none"/>
<rect x="49.9" y="772.8" width="7.2" height="7.2" fill="#fff"/><path d="M49.9 772.8L57.1 780M57.1 772.8L49.9 780" stroke="#000" stroke-width="1.4" fill="none"/>
<rect x="74.3" y="777.1" width="7.2" height="7.2" fill="#fff"/><path d="M74.3 777.1L81.5 784.3M81.5 777.1L74.3 784.3" stroke="#000" stroke-width="1.4" fill="none"/>
<rect x="78.4" y="777.1" width="7.2" height="7.2" fill="#fff"/><path d="M78.4 777.1L85.6 784.3M85.6 777.1L78.4 784.3" stroke="#000" stroke-width="1.4" fill="none"/>
<rect x="82.5" y="777.5" width="7.2" height="7.2" fill="#fff"/><path d="M82.5 777.5L89.7 784.7M89.7 777.5L82.5 784.7" stroke="#000" stroke-width="1.4" fill="none"/>
<rect x="106.9" y="779.9" width="7.2" height="7.2" fill="#fff"/><path d="M106.9 779.9L114.1 787.1M114.1 779.9L106.9 787.1" stroke="#000" stroke-width="1.4" fill="none"/>
<rect x="111" y="779.9" width="7.2" height="7.2" fill="#fff"/><path d="M111 779.9L118.2 787.1M118.2 779.9L111 787.1" stroke="#000" stroke-width="1.4" fill="none"/>
<rect x="115" y="779.9" width="7.2" height="7.2" fill="#fff"/><path d="M115 779.9L122.2 787.1M122.2 779.9L115 787.1" stroke="#000" stroke-width="1.4" fill="none"/>
<rect x="139.4" y="779.4" width="7.2" height="7.2" fill="#fff"/><path d="M139.4 779.4L146.6 786.6M146.6 779.4L139.4 786.6" stroke="#000" stroke-width="1.4" fill="none"/>
<rect x="143.5" y="779.4" width="7.2" height="7.2" fill="#fff"/><path d="M143.5 779.4L150.7 786.6M150.7 779.4L143.5 786.6" stroke="#000" stroke-width="1.4" fill="none"/>
<rect x="172" y="778.2" width="7.2" height="7.2" fill="#fff"/><path d="M172 778.2L179.2 785.4M179.2 778.2L172 785.4" stroke="#000" stroke-width="1.4" fill="none"/>
<rect x="176" y="778.7" width="7.2" height="7.2" fill="#fff"/><path d="M176 778.7L183.2 785.9M183.2 778.7L176 785.9" stroke="#000" stroke-width="1.4" fill="none"/>
<rect x="180.1" y="779.2" width="7.2" height="7.2" fill="#fff"/><path d="M180.1 779.2L187.3 786.4M187.3 779.2L180.1 786.4" stroke="#000" stroke-width="1.4" fill="none"/>
<rect x="204.5" y="779.9" width="7.2" height="7.2" fill="#fff"/><path d="M204.5 779.9L211.7 787.1M211.7 779.9L204.5 787.1" stroke="#000" stroke-width="1.4" fill="none"/>
<rect x="212.7" y="779.9" width="7.2" height="7.2" fill="#fff"/><path d="M212.7 779.9L219.9 787.1M219.9 779.9L212.7 787.1" stroke="#000" stroke-width="1.4" fill="none"/>
<rect x="237.1" y="779.9" width="7.2" height="7.2" fill="#fff"/><path d="M237.1 779.9L244.3 787.1M244.3 779.9L237.1 787.1" stroke="#000" stroke-width="1.4" fill="none"/>
<rect x="245.2" y="779.9" width="7.2" height="7.2" fill="#fff"/><path d="M245.2 779.9L252.4 787.1M252.4 779.9L245.2 787.1" stroke="#000" stroke-width="1.4" fill="none"/>
<rect x="269.6" y="779.9" width="7.2" height="7.2" fill="#fff"/><path d="M269.6 779.9L276.8 787.1M276.8 779.9L269.6 787.1" stroke="#000" stroke-width="1.4" fill="none"/>
<rect x="277.7" y="779.9" width="7.2" height="7.2" fill="#fff"/><path d="M277.7 779.9L284.9 787.1M284.9 779.9L277.7 787.1" stroke="#000" stroke-width="1.4" fill="none"/>
<rect x="302.2" y="779.9" width="7.2" height="7.2" fill="#fff"/><path d="M302.2 779.9L309.4 787.1M309.4 779.9L302.2 787.1" stroke="#000" stroke-width="1.4" fill="none"/>
<rect x="310.3" y="779.9" width="7.2" height="7.2" fill="#fff"/><path d="M310.3 779.9L317.5 787.1M317.5 779.9L310.3 787.1" stroke="#000" stroke-width="1.4" fill="none"/>
<path d="M404.5 783.5H674.8" stroke="#000" stroke-width="1.25" fill="none"/>
<path d="M404.5 783.5V787.1" stroke="#000" stroke-width="1.1"/>
<text x="404.5" y="804.2" font-family='"Liberation Serif", serif' font-size="12.8" font-weight="normal" text-anchor="middle" fill="#000">0</text>
<path d="M434.5 783.5V787.1" stroke="#000" stroke-width="1.1"/>
<text x="434.5" y="804.2" font-family='"Liberation Serif", serif' font-size="12.8" font-weight="normal" text-anchor="middle" fill="#000">24</text>
<path d="M464.6 783.5V787.1" stroke="#000" stroke-width="1.1"/>
<text x="464.6" y="804.2" font-family='"Liberation Serif", serif' font-size="12.8" font-weight="normal" text-anchor="middle" fill="#000">48</text>
<path d="M494.6 783.5V787.1" stroke="#000" stroke-width="1.1"/>
<text x="494.6" y="804.2" font-family='"Liberation Serif", serif' font-size="12.8" font-weight="normal" text-anchor="middle" fill="#000">72</text>
<path d="M524.6 783.5V787.1" stroke="#000" stroke-width="1.1"/>
<text x="524.6" y="804.2" font-family='"Liberation Serif", serif' font-size="12.8" font-weight="normal" text-anchor="middle" fill="#000">96</text>
<path d="M554.7 783.5V787.1" stroke="#000" stroke-width="1.1"/>
<text x="554.7" y="804.2" font-family='"Liberation Serif", serif' font-size="12.8" font-weight="normal" text-anchor="middle" fill="#000">120</text>
<path d="M584.7 783.5V787.1" stroke="#000" stroke-width="1.1"/>
<text x="584.7" y="804.2" font-family='"Liberation Serif", serif' font-size="12.8" font-weight="normal" text-anchor="middle" fill="#000">144</text>
<path d="M614.7 783.5V787.1" stroke="#000" stroke-width="1.1"/>
<text x="614.7" y="804.2" font-family='"Liberation Serif", serif' font-size="12.8" font-weight="normal" text-anchor="middle" fill="#000">168</text>
<path d="M644.7 783.5V787.1" stroke="#000" stroke-width="1.1"/>
<text x="644.7" y="804.2" font-family='"Liberation Serif", serif' font-size="12.8" font-weight="normal" text-anchor="middle" fill="#000">192</text>
<path d="M674.8 783.5V787.1" stroke="#000" stroke-width="1.1"/>
<text x="674.8" y="804.2" font-family='"Liberation Serif", serif' font-size="12.8" font-weight="normal" text-anchor="middle" fill="#000">216</text>
<text x="392.6" y="787.9" font-family='"Liberation Serif", serif' font-size="12.8" font-weight="normal" text-anchor="end" fill="#000">0</text>
<text x="392.6" y="764.1" font-family='"Liberation Serif", serif' font-size="12.8" font-weight="normal" text-anchor="end" fill="#000">1</text>
<text x="392.6" y="740.4" font-family='"Liberation Serif", serif' font-size="12.8" font-weight="normal" text-anchor="end" fill="#000">2</text>
<text x="392.6" y="716.6" font-family='"Liberation Serif", serif' font-size="12.8" font-weight="normal" text-anchor="end" fill="#000">3</text>
<text x="392.6" y="692.9" font-family='"Liberation Serif", serif' font-size="12.8" font-weight="normal" text-anchor="end" fill="#000">4</text>
<text x="392.6" y="669.1" font-family='"Liberation Serif", serif' font-size="12.8" font-weight="normal" text-anchor="end" fill="#000">5</text>
<text x="392.6" y="645.3" font-family='"Liberation Serif", serif' font-size="12.8" font-weight="normal" text-anchor="end" fill="#000">6</text>
<text x="392.6" y="621.6" font-family='"Liberation Serif", serif' font-size="12.8" font-weight="normal" text-anchor="end" fill="#000">7</text>
<text x="373.5" y="605.4" font-family='"Liberation Serif", serif' font-size="15" font-weight="bold" text-anchor="start" fill="#000">E</text>
<text x="524.6" y="623.6" font-family='"Liberation Serif", serif' font-size="16.3" font-weight="bold" text-anchor="middle" fill="#000">JMY7782</text>
<text x="540" y="824.3" font-family='"Liberation Serif", serif' font-size="13.7" font-weight="bold" text-anchor="middle" fill="#000">Time (h)</text>
<text x="0" y="0" font-family='"Liberation Serif", serif' font-size="14" font-weight="bold" text-anchor="middle" fill="#000" transform="translate(372 701) rotate(-90)">SCFAs concentration (g/L)</text>
<path d="M404.5 633.8L408.3 659.9L412 712.2L434.5 783.5L438.3 783.5L442 783.5L464.6 783.5L468.3 783.5L472.1 783.5L524.6 783.5L528.4 783.5L532.1 783.5L554.7 783.5L562.2 783.5L584.7 783.5L592.2 783.5L614.7 783.5L622.2 783.5L644.7 783.5L652.3 783.5" stroke="#000" stroke-width="1.4" fill="none" stroke-linejoin="round"/>
<path d="M404.5 702.7L408.3 704.4L412 708.7L434.5 711L438.3 707.5L442 706L464.6 711.3L468.3 713.4L472.1 708.7L524.6 702.7L528.4 702.7L532.1 702.7L554.7 700.3L562.2 703.7L584.7 703.9L592.2 706.3L614.7 709.8L622.2 710.3L644.7 711L652.3 709.8" stroke="#000" stroke-width="1.4" fill="none" stroke-linejoin="round"/>
<path d="M404.5 775.2L408.3 776.4L412 776.8L434.5 779.2L438.3 779.2L442 779.2L464.6 782.3L468.3 782.3L472.1 781.1L524.6 779.9L528.4 779.9L532.1 779.9L554.7 780.6L562.2 783L584.7 783L592.2 783L614.7 783.5L622.2 783.5L644.7 783.5L652.3 783.5" stroke="#000" stroke-width="1.4" fill="none" stroke-linejoin="round"/>
<path d="M404.5 726.5L408.3 728.9L412 732.4L434.5 750.2L438.3 749L442 749L464.6 754L468.3 754L472.1 751.4L524.6 747.9L528.4 747.9L532.1 747.9L554.7 747.9L562.2 750.9L584.7 747.4L592.2 747.4L614.7 747.4L622.2 747.4L644.7 747.4L652.3 747.4" stroke="#000" stroke-width="1.4" fill="none" stroke-linejoin="round"/>
<path d="M404.5 760.7L408.3 762.1L412 764.5L434.5 766.2L438.3 766.2L442 766.2L464.6 766.9L468.3 766.9L472.1 766.9L524.6 766.4L528.4 766.4L532.1 766.4L554.7 765.9L562.2 765.7L584.7 763.5L592.2 763.5L614.7 762.1L622.2 762.1L644.7 762.8L652.3 762.8" stroke="#000" stroke-width="1.4" fill="none" stroke-linejoin="round"/>
<path d="M404.5 750.2L408.3 751.2L412 753.3L434.5 760.7L438.3 759.7L442 759.7L464.6 763.3L468.3 763.3L472.1 763.3L524.6 760.5L528.4 760.5L532.1 760.5L554.7 759.7L562.2 762.1L584.7 763.1L592.2 763.1L614.7 766.2L622.2 766.9L644.7 767.1L652.3 766.9" stroke="#000" stroke-width="1.4" fill="none" stroke-linejoin="round"/>
<path d="M404.5 775.9L408.3 776.4L412 776.8L434.5 779.2L438.3 779.2L442 779.9L464.6 783.5L468.3 783.5L472.1 782.3L524.6 779.9L528.4 779.9L532.1 779.9L554.7 780.6L562.2 783.5L584.7 783.5L592.2 783.5L614.7 783.5L622.2 783.5L644.7 783.5L652.3 783.5" stroke="#000" stroke-width="1.4" fill="none" stroke-linejoin="round"/>
<rect x="400.9" y="630.2" width="7.3" height="7.3" fill="#000"/>
<rect x="404.6" y="656.3" width="7.3" height="7.3" fill="#000"/>
<rect x="408.4" y="708.6" width="7.3" height="7.3" fill="#000"/>
<rect x="430.9" y="779.9" width="7.3" height="7.3" fill="#000"/>
<rect x="434.6" y="779.9" width="7.3" height="7.3" fill="#000"/>
<rect x="438.4" y="779.9" width="7.3" height="7.3" fill="#000"/>
<rect x="460.9" y="779.9" width="7.3" height="7.3" fill="#000"/>
<rect x="464.7" y="779.9" width="7.3" height="7.3" fill="#000"/>
<rect x="468.4" y="779.9" width="7.3" height="7.3" fill="#000"/>
<rect x="521" y="779.9" width="7.3" height="7.3" fill="#000"/>
<rect x="524.7" y="779.9" width="7.3" height="7.3" fill="#000"/>
<rect x="528.5" y="779.9" width="7.3" height="7.3" fill="#000"/>
<rect x="551" y="779.9" width="7.3" height="7.3" fill="#000"/>
<rect x="558.5" y="779.9" width="7.3" height="7.3" fill="#000"/>
<rect x="581" y="779.9" width="7.3" height="7.3" fill="#000"/>
<rect x="588.5" y="779.9" width="7.3" height="7.3" fill="#000"/>
<rect x="611.1" y="779.9" width="7.3" height="7.3" fill="#000"/>
<rect x="618.6" y="779.9" width="7.3" height="7.3" fill="#000"/>
<rect x="641.1" y="779.9" width="7.3" height="7.3" fill="#000"/>
<rect x="648.6" y="779.9" width="7.3" height="7.3" fill="#000"/>
<path d="M404.5 698.7L408.5 702.7L404.5 706.7L400.5 702.7Z" fill="#000"/>
<path d="M408.3 700.4L412.3 704.4L408.3 708.4L404.3 704.4Z" fill="#000"/>
<path d="M412 704.7L416 708.7L412 712.7L408 708.7Z" fill="#000"/>
<path d="M434.5 707L438.5 711L434.5 715L430.5 711Z" fill="#000"/>
<path d="M438.3 703.5L442.3 707.5L438.3 711.5L434.3 707.5Z" fill="#000"/>
<path d="M442 702L446 706L442 710L438 706Z" fill="#000"/>
<path d="M464.6 707.3L468.6 711.3L464.6 715.3L460.6 711.3Z" fill="#000"/>
<path d="M468.3 709.4L472.3 713.4L468.3 717.4L464.3 713.4Z" fill="#000"/>
<path d="M472.1 704.7L476.1 708.7L472.1 712.7L468.1 708.7Z" fill="#000"/>
<path d="M524.6 698.7L528.6 702.7L524.6 706.7L520.6 702.7Z" fill="#000"/>
<path d="M528.4 698.7L532.4 702.7L528.4 706.7L524.4 702.7Z" fill="#000"/>
<path d="M532.1 698.7L536.1 702.7L532.1 706.7L528.1 702.7Z" fill="#000"/>
<path d="M554.7 696.3L558.7 700.3L554.7 704.3L550.7 700.3Z" fill="#000"/>
<path d="M562.2 699.7L566.2 703.7L562.2 707.7L558.2 703.7Z" fill="#000"/>
<path d="M584.7 699.9L588.7 703.9L584.7 707.9L580.7 703.9Z" fill="#000"/>
<path d="M592.2 702.3L596.2 706.3L592.2 710.3L588.2 706.3Z" fill="#000"/>
<path d="M614.7 705.8L618.7 709.8L614.7 713.8L610.7 709.8Z" fill="#000"/>
<path d="M622.2 706.3L626.2 710.3L622.2 714.3L618.2 710.3Z" fill="#000"/>
<path d="M644.7 707L648.7 711L644.7 715L640.7 711Z" fill="#000"/>
<path d="M652.3 705.8L656.3 709.8L652.3 713.8L648.3 709.8Z" fill="#000"/>
<rect x="401.5" y="772.2" width="6" height="6" fill="#fff"/><path d="M401.5 772.2L407.5 778.2M407.5 772.2L401.5 778.2M404.5 772.2L404.5 778.2" stroke="#000" stroke-width="1.1" fill="none"/>
<rect x="405.3" y="773.4" width="6" height="6" fill="#fff"/><path d="M405.3 773.4L411.3 779.4M411.3 773.4L405.3 779.4M408.3 773.4L408.3 779.4" stroke="#000" stroke-width="1.1" fill="none"/>
<rect x="409" y="773.8" width="6" height="6" fill="#fff"/><path d="M409 773.8L415 779.8M415 773.8L409 779.8M412 773.8L412 779.8" stroke="#000" stroke-width="1.1" fill="none"/>
<rect x="431.5" y="776.2" width="6" height="6" fill="#fff"/><path d="M431.5 776.2L437.5 782.2M437.5 776.2L431.5 782.2M434.5 776.2L434.5 782.2" stroke="#000" stroke-width="1.1" fill="none"/>
<rect x="435.3" y="776.2" width="6" height="6" fill="#fff"/><path d="M435.3 776.2L441.3 782.2M441.3 776.2L435.3 782.2M438.3 776.2L438.3 782.2" stroke="#000" stroke-width="1.1" fill="none"/>
<rect x="439" y="776.2" width="6" height="6" fill="#fff"/><path d="M439 776.2L445 782.2M445 776.2L439 782.2M442 776.2L442 782.2" stroke="#000" stroke-width="1.1" fill="none"/>
<rect x="461.6" y="779.3" width="6" height="6" fill="#fff"/><path d="M461.6 779.3L467.6 785.3M467.6 779.3L461.6 785.3M464.6 779.3L464.6 785.3" stroke="#000" stroke-width="1.1" fill="none"/>
<rect x="465.3" y="779.3" width="6" height="6" fill="#fff"/><path d="M465.3 779.3L471.3 785.3M471.3 779.3L465.3 785.3M468.3 779.3L468.3 785.3" stroke="#000" stroke-width="1.1" fill="none"/>
<rect x="469.1" y="778.1" width="6" height="6" fill="#fff"/><path d="M469.1 778.1L475.1 784.1M475.1 778.1L469.1 784.1M472.1 778.1L472.1 784.1" stroke="#000" stroke-width="1.1" fill="none"/>
<rect x="521.6" y="776.9" width="6" height="6" fill="#fff"/><path d="M521.6 776.9L527.6 782.9M527.6 776.9L521.6 782.9M524.6 776.9L524.6 782.9" stroke="#000" stroke-width="1.1" fill="none"/>
<rect x="525.4" y="776.9" width="6" height="6" fill="#fff"/><path d="M525.4 776.9L531.4 782.9M531.4 776.9L525.4 782.9M528.4 776.9L528.4 782.9" stroke="#000" stroke-width="1.1" fill="none"/>
<rect x="529.1" y="776.9" width="6" height="6" fill="#fff"/><path d="M529.1 776.9L535.1 782.9M535.1 776.9L529.1 782.9M532.1 776.9L532.1 782.9" stroke="#000" stroke-width="1.1" fill="none"/>
<rect x="551.7" y="777.6" width="6" height="6" fill="#fff"/><path d="M551.7 777.6L557.7 783.6M557.7 777.6L551.7 783.6M554.7 777.6L554.7 783.6" stroke="#000" stroke-width="1.1" fill="none"/>
<rect x="559.2" y="780" width="6" height="6" fill="#fff"/><path d="M559.2 780L565.2 786M565.2 780L559.2 786M562.2 780L562.2 786" stroke="#000" stroke-width="1.1" fill="none"/>
<rect x="581.7" y="780" width="6" height="6" fill="#fff"/><path d="M581.7 780L587.7 786M587.7 780L581.7 786M584.7 780L584.7 786" stroke="#000" stroke-width="1.1" fill="none"/>
<rect x="589.2" y="780" width="6" height="6" fill="#fff"/><path d="M589.2 780L595.2 786M595.2 780L589.2 786M592.2 780L592.2 786" stroke="#000" stroke-width="1.1" fill="none"/>
<rect x="611.7" y="780.5" width="6" height="6" fill="#fff"/><path d="M611.7 780.5L617.7 786.5M617.7 780.5L611.7 786.5M614.7 780.5L614.7 786.5" stroke="#000" stroke-width="1.1" fill="none"/>
<rect x="619.2" y="780.5" width="6" height="6" fill="#fff"/><path d="M619.2 780.5L625.2 786.5M625.2 780.5L619.2 786.5M622.2 780.5L622.2 786.5" stroke="#000" stroke-width="1.1" fill="none"/>
<rect x="641.7" y="780.5" width="6" height="6" fill="#fff"/><path d="M641.7 780.5L647.7 786.5M647.7 780.5L641.7 786.5M644.7 780.5L644.7 786.5" stroke="#000" stroke-width="1.1" fill="none"/>
<rect x="649.3" y="780.5" width="6" height="6" fill="#fff"/><path d="M649.3 780.5L655.3 786.5M655.3 780.5L649.3 786.5M652.3 780.5L652.3 786.5" stroke="#000" stroke-width="1.1" fill="none"/>
<path d="M404.5 722.8L408.3 730.2L400.7 730.2Z" fill="#000"/>
<path d="M408.3 725.1L412.1 732.6L404.5 732.6Z" fill="#000"/>
<path d="M412 728.7L415.8 736.1L408.2 736.1Z" fill="#000"/>
<path d="M434.5 746.5L438.3 754L430.7 754Z" fill="#000"/>
<path d="M438.3 745.3L442.1 752.8L434.5 752.8Z" fill="#000"/>
<path d="M442 745.3L445.8 752.8L438.2 752.8Z" fill="#000"/>
<path d="M464.6 750.3L468.4 757.8L460.8 757.8Z" fill="#000"/>
<path d="M468.3 750.3L472.1 757.8L464.5 757.8Z" fill="#000"/>
<path d="M472.1 747.7L475.9 755.1L468.3 755.1Z" fill="#000"/>
<path d="M524.6 744.1L528.4 751.6L520.8 751.6Z" fill="#000"/>
<path d="M528.4 744.1L532.2 751.6L524.6 751.6Z" fill="#000"/>
<path d="M532.1 744.1L535.9 751.6L528.3 751.6Z" fill="#000"/>
<path d="M554.7 744.1L558.5 751.6L550.9 751.6Z" fill="#000"/>
<path d="M562.2 747.2L566 754.7L558.4 754.7Z" fill="#000"/>
<path d="M584.7 743.7L588.5 751.1L580.9 751.1Z" fill="#000"/>
<path d="M592.2 743.7L596 751.1L588.4 751.1Z" fill="#000"/>
<path d="M614.7 743.7L618.5 751.1L610.9 751.1Z" fill="#000"/>
<path d="M622.2 743.7L626 751.1L618.4 751.1Z" fill="#000"/>
<path d="M644.7 743.7L648.5 751.1L640.9 751.1Z" fill="#000"/>
<path d="M652.3 743.7L656.1 751.1L648.5 751.1Z" fill="#000"/>
<rect x="400.9" y="757.1" width="7.2" height="7.2" fill="#fff"/><path d="M400.9 760.7L408.1 760.7M404.5 757.1L404.5 764.3" stroke="#000" stroke-width="1.4" fill="none"/>
<rect x="404.7" y="758.5" width="7.2" height="7.2" fill="#fff"/><path d="M404.7 762.1L411.9 762.1M408.3 758.5L408.3 765.7" stroke="#000" stroke-width="1.4" fill="none"/>
<rect x="408.4" y="760.9" width="7.2" height="7.2" fill="#fff"/><path d="M408.4 764.5L415.6 764.5M412 760.9L412 768.1" stroke="#000" stroke-width="1.4" fill="none"/>
<rect x="430.9" y="762.6" width="7.2" height="7.2" fill="#fff"/><path d="M430.9 766.2L438.1 766.2M434.5 762.6L434.5 769.8" stroke="#000" stroke-width="1.4" fill="none"/>
<rect x="434.7" y="762.6" width="7.2" height="7.2" fill="#fff"/><path d="M434.7 766.2L441.9 766.2M438.3 762.6L438.3 769.8" stroke="#000" stroke-width="1.4" fill="none"/>
<rect x="438.4" y="762.6" width="7.2" height="7.2" fill="#fff"/><path d="M438.4 766.2L445.6 766.2M442 762.6L442 769.8" stroke="#000" stroke-width="1.4" fill="none"/>
<rect x="461" y="763.3" width="7.2" height="7.2" fill="#fff"/><path d="M461 766.9L468.2 766.9M464.6 763.3L464.6 770.5" stroke="#000" stroke-width="1.4" fill="none"/>
<rect x="464.7" y="763.3" width="7.2" height="7.2" fill="#fff"/><path d="M464.7 766.9L471.9 766.9M468.3 763.3L468.3 770.5" stroke="#000" stroke-width="1.4" fill="none"/>
<rect x="468.5" y="763.3" width="7.2" height="7.2" fill="#fff"/><path d="M468.5 766.9L475.7 766.9M472.1 763.3L472.1 770.5" stroke="#000" stroke-width="1.4" fill="none"/>
<rect x="521" y="762.8" width="7.2" height="7.2" fill="#fff"/><path d="M521 766.4L528.2 766.4M524.6 762.8L524.6 770" stroke="#000" stroke-width="1.4" fill="none"/>
<rect x="524.8" y="762.8" width="7.2" height="7.2" fill="#fff"/><path d="M524.8 766.4L532 766.4M528.4 762.8L528.4 770" stroke="#000" stroke-width="1.4" fill="none"/>
<rect x="528.5" y="762.8" width="7.2" height="7.2" fill="#fff"/><path d="M528.5 766.4L535.7 766.4M532.1 762.8L532.1 770" stroke="#000" stroke-width="1.4" fill="none"/>
<rect x="551.1" y="762.3" width="7.2" height="7.2" fill="#fff"/><path d="M551.1 765.9L558.3 765.9M554.7 762.3L554.7 769.5" stroke="#000" stroke-width="1.4" fill="none"/>
<rect x="558.6" y="762.1" width="7.2" height="7.2" fill="#fff"/><path d="M558.6 765.7L565.8 765.7M562.2 762.1L562.2 769.3" stroke="#000" stroke-width="1.4" fill="none"/>
<rect x="581.1" y="759.9" width="7.2" height="7.2" fill="#fff"/><path d="M581.1 763.5L588.3 763.5M584.7 759.9L584.7 767.1" stroke="#000" stroke-width="1.4" fill="none"/>
<rect x="588.6" y="759.9" width="7.2" height="7.2" fill="#fff"/><path d="M588.6 763.5L595.8 763.5M592.2 759.9L592.2 767.1" stroke="#000" stroke-width="1.4" fill="none"/>
<rect x="611.1" y="758.5" width="7.2" height="7.2" fill="#fff"/><path d="M611.1 762.1L618.3 762.1M614.7 758.5L614.7 765.7" stroke="#000" stroke-width="1.4" fill="none"/>
<rect x="618.6" y="758.5" width="7.2" height="7.2" fill="#fff"/><path d="M618.6 762.1L625.8 762.1M622.2 758.5L622.2 765.7" stroke="#000" stroke-width="1.4" fill="none"/>
<rect x="641.1" y="759.2" width="7.2" height="7.2" fill="#fff"/><path d="M641.1 762.8L648.3 762.8M644.7 759.2L644.7 766.4" stroke="#000" stroke-width="1.4" fill="none"/>
<rect x="648.7" y="759.2" width="7.2" height="7.2" fill="#fff"/><path d="M648.7 762.8L655.9 762.8M652.3 759.2L652.3 766.4" stroke="#000" stroke-width="1.4" fill="none"/>
<circle cx="404.5" cy="750.2" r="3.6" fill="#000"/>
<circle cx="408.3" cy="751.2" r="3.6" fill="#000"/>
<circle cx="412" cy="753.3" r="3.6" fill="#000"/>
<circle cx="434.5" cy="760.7" r="3.6" fill="#000"/>
<circle cx="438.3" cy="759.7" r="3.6" fill="#000"/>
<circle cx="442" cy="759.7" r="3.6" fill="#000"/>
<circle cx="464.6" cy="763.3" r="3.6" fill="#000"/>
<circle cx="468.3" cy="763.3" r="3.6" fill="#000"/>
<circle cx="472.1" cy="763.3" r="3.6" fill="#000"/>
<circle cx="524.6" cy="760.5" r="3.6" fill="#000"/>
<circle cx="528.4" cy="760.5" r="3.6" fill="#000"/>
<circle cx="532.1" cy="760.5" r="3.6" fill="#000"/>
<circle cx="554.7" cy="759.7" r="3.6" fill="#000"/>
<circle cx="562.2" cy="762.1" r="3.6" fill="#000"/>
<circle cx="584.7" cy="763.1" r="3.6" fill="#000"/>
<circle cx="592.2" cy="763.1" r="3.6" fill="#000"/>
<circle cx="614.7" cy="766.2" r="3.6" fill="#000"/>
<circle cx="622.2" cy="766.9" r="3.6" fill="#000"/>
<circle cx="644.7" cy="767.1" r="3.6" fill="#000"/>
<circle cx="652.3" cy="766.9" r="3.6" fill="#000"/>
<rect x="400.9" y="772.3" width="7.2" height="7.2" fill="#fff"/><path d="M400.9 772.3L408.1 779.5M408.1 772.3L400.9 779.5" stroke="#000" stroke-width="1.4" fill="none"/>
<rect x="404.7" y="772.8" width="7.2" height="7.2" fill="#fff"/><path d="M404.7 772.8L411.9 780M411.9 772.8L404.7 780" stroke="#000" stroke-width="1.4" fill="none"/>
<rect x="408.4" y="773.2" width="7.2" height="7.2" fill="#fff"/><path d="M408.4 773.2L415.6 780.4M415.6 773.2L408.4 780.4" stroke="#000" stroke-width="1.4" fill="none"/>
<rect x="430.9" y="775.6" width="7.2" height="7.2" fill="#fff"/><path d="M430.9 775.6L438.1 782.8M438.1 775.6L430.9 782.8" stroke="#000" stroke-width="1.4" fill="none"/>
<rect x="434.7" y="775.6" width="7.2" height="7.2" fill="#fff"/><path d="M434.7 775.6L441.9 782.8M441.9 775.6L434.7 782.8" stroke="#000" stroke-width="1.4" fill="none"/>
<rect x="438.4" y="776.3" width="7.2" height="7.2" fill="#fff"/><path d="M438.4 776.3L445.6 783.5M445.6 776.3L438.4 783.5" stroke="#000" stroke-width="1.4" fill="none"/>
<rect x="461" y="779.9" width="7.2" height="7.2" fill="#fff"/><path d="M461 779.9L468.2 787.1M468.2 779.9L461 787.1" stroke="#000" stroke-width="1.4" fill="none"/>
<rect x="464.7" y="779.9" width="7.2" height="7.2" fill="#fff"/><path d="M464.7 779.9L471.9 787.1M471.9 779.9L464.7 787.1" stroke="#000" stroke-width="1.4" fill="none"/>
<rect x="468.5" y="778.7" width="7.2" height="7.2" fill="#fff"/><path d="M468.5 778.7L475.7 785.9M475.7 778.7L468.5 785.9" stroke="#000" stroke-width="1.4" fill="none"/>
<rect x="521" y="776.3" width="7.2" height="7.2" fill="#fff"/><path d="M521 776.3L528.2 783.5M528.2 776.3L521 783.5" stroke="#000" stroke-width="1.4" fill="none"/>
<rect x="524.8" y="776.3" width="7.2" height="7.2" fill="#fff"/><path d="M524.8 776.3L532 783.5M532 776.3L524.8 783.5" stroke="#000" stroke-width="1.4" fill="none"/>
<rect x="528.5" y="776.3" width="7.2" height="7.2" fill="#fff"/><path d="M528.5 776.3L535.7 783.5M535.7 776.3L528.5 783.5" stroke="#000" stroke-width="1.4" fill="none"/>
<rect x="551.1" y="777" width="7.2" height="7.2" fill="#fff"/><path d="M551.1 777L558.3 784.2M558.3 777L551.1 784.2" stroke="#000" stroke-width="1.4" fill="none"/>
<rect x="558.6" y="779.9" width="7.2" height="7.2" fill="#fff"/><path d="M558.6 779.9L565.8 787.1M565.8 779.9L558.6 787.1" stroke="#000" stroke-width="1.4" fill="none"/>
<rect x="581.1" y="779.9" width="7.2" height="7.2" fill="#fff"/><path d="M581.1 779.9L588.3 787.1M588.3 779.9L581.1 787.1" stroke="#000" stroke-width="1.4" fill="none"/>
<rect x="588.6" y="779.9" width="7.2" height="7.2" fill="#fff"/><path d="M588.6 779.9L595.8 787.1M595.8 779.9L588.6 787.1" stroke="#000" stroke-width="1.4" fill="none"/>
<rect x="611.1" y="779.9" width="7.2" height="7.2" fill="#fff"/><path d="M611.1 779.9L618.3 787.1M618.3 779.9L611.1 787.1" stroke="#000" stroke-width="1.4" fill="none"/>
<rect x="618.6" y="779.9" width="7.2" height="7.2" fill="#fff"/><path d="M618.6 779.9L625.8 787.1M625.8 779.9L618.6 787.1" stroke="#000" stroke-width="1.4" fill="none"/>
<rect x="641.1" y="779.9" width="7.2" height="7.2" fill="#fff"/><path d="M641.1 779.9L648.3 787.1M648.3 779.9L641.1 787.1" stroke="#000" stroke-width="1.4" fill="none"/>
<rect x="648.7" y="779.9" width="7.2" height="7.2" fill="#fff"/><path d="M648.7 779.9L655.9 787.1M655.9 779.9L648.7 787.1" stroke="#000" stroke-width="1.4" fill="none"/>
</svg>
</body></html>
